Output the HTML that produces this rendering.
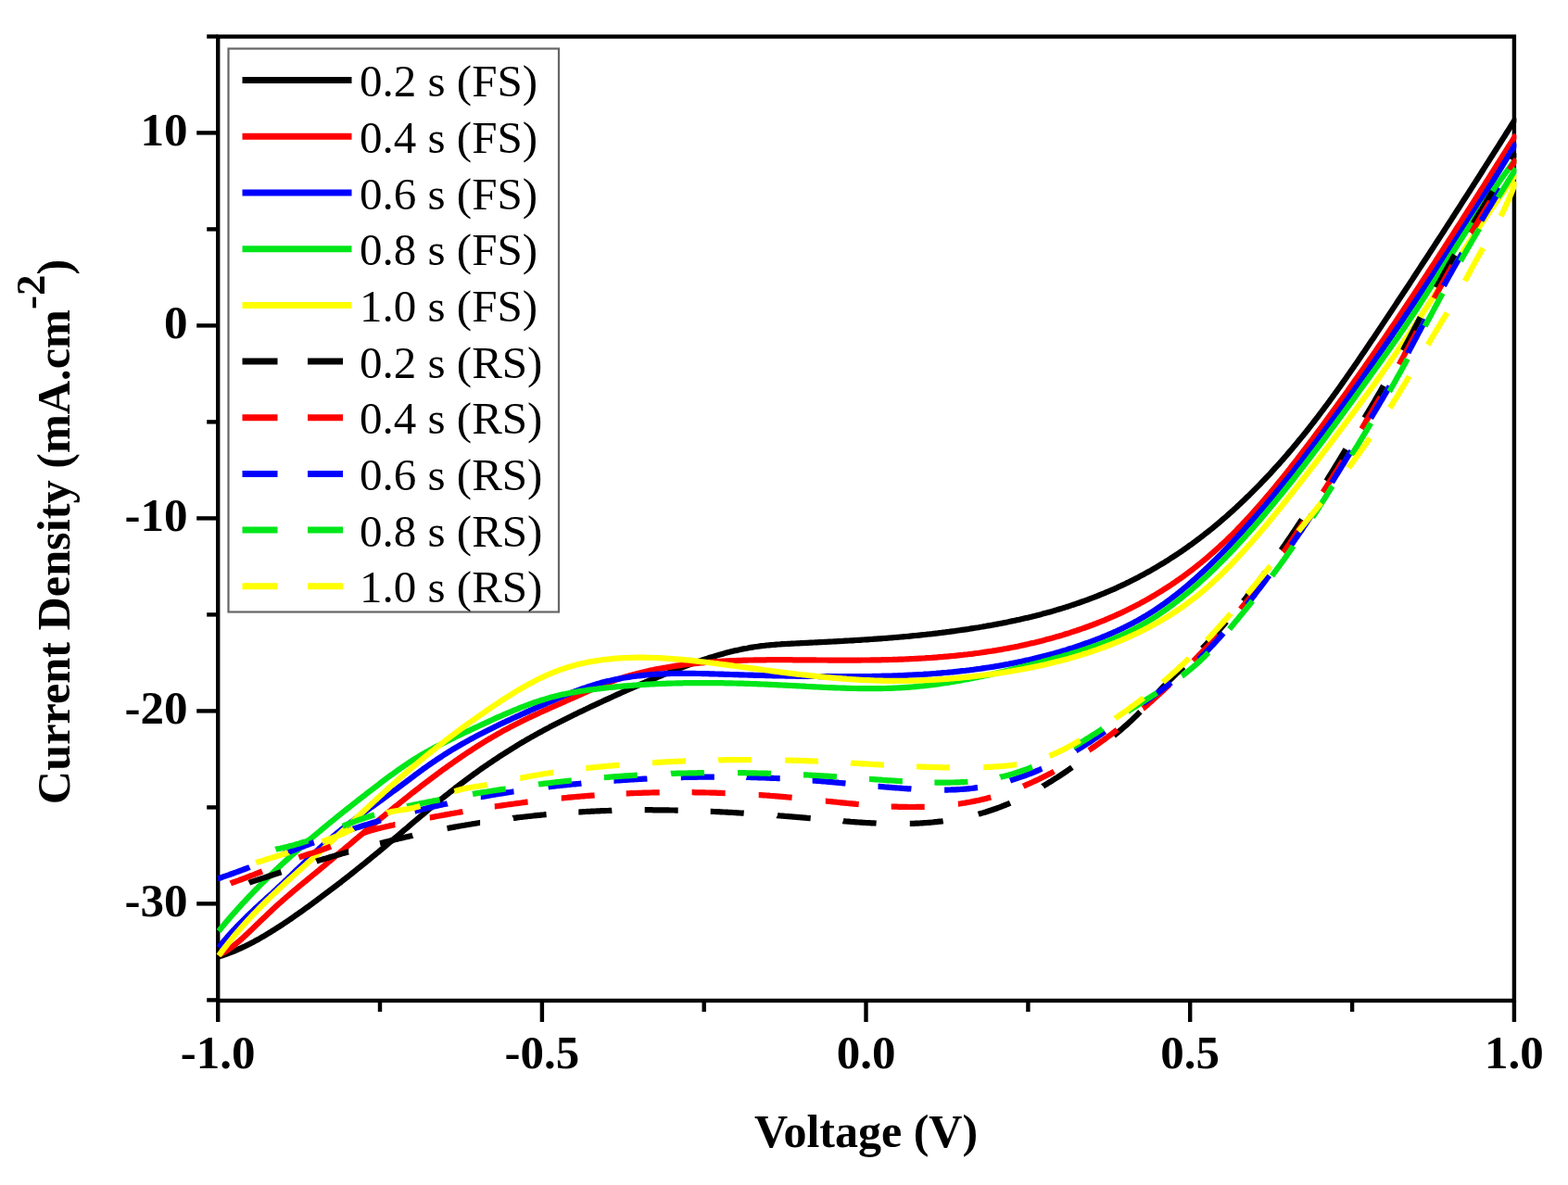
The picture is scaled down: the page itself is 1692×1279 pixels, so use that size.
<!DOCTYPE html>
<html><head><meta charset="utf-8"><title>Current Density vs Voltage</title>
<style>
html,body{margin:0;padding:0;background:#fff;overflow:hidden;}
svg{display:block;}
.tk{font-family:"Liberation Serif","Times New Roman",serif;font-weight:bold;font-size:51px;fill:#000;}
.lg{font-family:"Liberation Serif","Times New Roman",serif;font-size:49px;fill:#000;}
.ax{font-family:"Liberation Serif","Times New Roman",serif;font-weight:bold;font-size:50px;fill:#000;}
</style></head>
<body>
<svg width="1692" height="1279" viewBox="0 0 1692 1279">
<rect width="1692" height="1279" fill="#fff"/>
<defs><clipPath id="pc"><rect x="232.7" y="39.5" width="1403.7" height="1040.5"/></clipPath></defs>
<rect x="235.2" y="39.5" width="1398.7" height="1040.5" fill="none" stroke="#000" stroke-width="4.4"/>
<line x1="212.2" y1="143.4" x2="235.2" y2="143.4" stroke="#000" stroke-width="4.4"/>
<line x1="212.2" y1="351.4" x2="235.2" y2="351.4" stroke="#000" stroke-width="4.4"/>
<line x1="212.2" y1="559.4" x2="235.2" y2="559.4" stroke="#000" stroke-width="4.4"/>
<line x1="212.2" y1="767.4" x2="235.2" y2="767.4" stroke="#000" stroke-width="4.4"/>
<line x1="212.2" y1="975.4" x2="235.2" y2="975.4" stroke="#000" stroke-width="4.4"/>
<line x1="223.2" y1="39.4" x2="235.2" y2="39.4" stroke="#000" stroke-width="4.4"/>
<line x1="223.2" y1="247.4" x2="235.2" y2="247.4" stroke="#000" stroke-width="4.4"/>
<line x1="223.2" y1="455.4" x2="235.2" y2="455.4" stroke="#000" stroke-width="4.4"/>
<line x1="223.2" y1="663.4" x2="235.2" y2="663.4" stroke="#000" stroke-width="4.4"/>
<line x1="223.2" y1="871.4" x2="235.2" y2="871.4" stroke="#000" stroke-width="4.4"/>
<line x1="223.2" y1="1079.4" x2="235.2" y2="1079.4" stroke="#000" stroke-width="4.4"/>
<line x1="235.2" y1="1080.0" x2="235.2" y2="1103.0" stroke="#000" stroke-width="4.4"/>
<line x1="584.9" y1="1080.0" x2="584.9" y2="1103.0" stroke="#000" stroke-width="4.4"/>
<line x1="934.5" y1="1080.0" x2="934.5" y2="1103.0" stroke="#000" stroke-width="4.4"/>
<line x1="1284.2" y1="1080.0" x2="1284.2" y2="1103.0" stroke="#000" stroke-width="4.4"/>
<line x1="1633.9" y1="1080.0" x2="1633.9" y2="1103.0" stroke="#000" stroke-width="4.4"/>
<line x1="410.0" y1="1080.0" x2="410.0" y2="1092.0" stroke="#000" stroke-width="4.4"/>
<line x1="759.7" y1="1080.0" x2="759.7" y2="1092.0" stroke="#000" stroke-width="4.4"/>
<line x1="1109.4" y1="1080.0" x2="1109.4" y2="1092.0" stroke="#000" stroke-width="4.4"/>
<line x1="1459.1" y1="1080.0" x2="1459.1" y2="1092.0" stroke="#000" stroke-width="4.4"/>
<g clip-path="url(#pc)">
<path d="M236.0,1032.5L238.0,1031.9L240.0,1031.2L242.0,1030.6L244.0,1029.9L246.0,1029.1L248.0,1028.4L250.0,1027.6L252.0,1026.8L254.0,1026.0L256.0,1025.1L258.0,1024.2L260.0,1023.3L262.0,1022.4L264.0,1021.5L266.0,1020.5L268.0,1019.5L270.0,1018.5L272.0,1017.4L274.0,1016.4L276.0,1015.3L278.0,1014.2L280.0,1013.1L282.0,1011.9L284.0,1010.8L286.0,1009.6L288.0,1008.4L290.0,1007.2L292.0,1006.0L294.0,1004.7L296.0,1003.5L298.0,1002.2L300.0,1000.9L302.0,999.6L304.0,998.3L306.0,997.0L308.0,995.7L310.0,994.3L312.0,993.0L314.0,991.6L316.0,990.2L318.0,988.8L320.0,987.4L322.0,986.0L324.0,984.6L326.0,983.2L328.0,981.7L330.0,980.3L332.0,978.9L334.0,977.4L336.0,976.0L338.0,974.5L340.0,973.0L342.0,971.6L344.0,970.1L346.0,968.6L348.0,967.1L350.0,965.6L352.0,964.1L354.0,962.6L356.0,961.1L358.0,959.6L360.0,958.1L362.0,956.5L364.0,955.0L366.0,953.4L368.0,951.9L370.0,950.3L372.0,948.8L374.0,947.2L376.0,945.7L378.0,944.1L380.0,942.5L382.0,940.9L384.0,939.3L386.0,937.7L388.0,936.1L390.0,934.5L392.0,932.9L394.0,931.3L396.0,929.6L398.0,928.0L400.0,926.4L402.0,924.7L404.0,923.1L406.0,921.4L408.0,919.8L410.0,918.1L412.0,916.5L414.0,914.8L416.0,913.1L418.0,911.4L420.0,909.7L422.0,908.1L424.0,906.4L426.0,904.7L428.0,903.0L430.0,901.3L432.0,899.6L434.0,897.9L436.0,896.2L438.0,894.5L440.0,892.8L442.0,891.1L444.0,889.4L446.0,887.7L448.0,886.0L450.0,884.3L452.0,882.6L454.0,880.9L456.0,879.3L458.0,877.6L460.0,875.9L462.0,874.2L464.0,872.6L466.0,870.9L468.0,869.3L470.0,867.6L472.0,866.0L474.0,864.3L476.0,862.7L478.0,861.1L480.0,859.5L482.0,857.9L484.0,856.3L486.0,854.7L488.0,853.2L490.0,851.6L492.0,850.0L494.0,848.5L496.0,847.0L498.0,845.4L500.0,843.9L502.0,842.4L504.0,841.0L506.0,839.5L508.0,838.0L510.0,836.6L512.0,835.1L514.0,833.7L516.0,832.2L518.0,830.8L520.0,829.4L522.0,828.0L524.0,826.6L526.0,825.3L528.0,823.9L530.0,822.6L532.0,821.2L534.0,819.9L536.0,818.6L538.0,817.2L540.0,815.9L542.0,814.6L544.0,813.4L546.0,812.1L548.0,810.8L550.0,809.6L552.0,808.3L554.0,807.1L556.0,805.9L558.0,804.6L560.0,803.4L562.0,802.2L564.0,801.0L566.0,799.9L568.0,798.7L570.0,797.5L572.0,796.4L574.0,795.2L576.0,794.1L578.0,793.0L580.0,791.9L582.0,790.8L584.0,789.7L586.0,788.6L588.0,787.5L590.0,786.4L592.0,785.4L594.0,784.3L596.0,783.3L598.0,782.2L600.0,781.2L602.0,780.2L604.0,779.2L606.0,778.2L608.0,777.2L610.0,776.2L612.0,775.2L614.0,774.2L616.0,773.2L618.0,772.2L620.0,771.2L622.0,770.3L624.0,769.3L626.0,768.3L628.0,767.4L630.0,766.4L632.0,765.5L634.0,764.5L636.0,763.6L638.0,762.6L640.0,761.7L642.0,760.8L644.0,759.8L646.0,758.9L648.0,758.0L650.0,757.1L652.0,756.1L654.0,755.2L656.0,754.3L658.0,753.4L660.0,752.5L662.0,751.5L664.0,750.6L666.0,749.7L668.0,748.8L670.0,747.9L672.0,747.0L674.0,746.1L676.0,745.2L678.0,744.4L680.0,743.5L682.0,742.6L684.0,741.7L686.0,740.8L688.0,740.0L690.0,739.1L692.0,738.2L694.0,737.4L696.0,736.5L698.0,735.7L700.0,734.8L702.0,734.0L704.0,733.1L706.0,732.3L708.0,731.5L710.0,730.7L712.0,729.8L714.0,729.0L716.0,728.2L718.0,727.4L720.0,726.6L722.0,725.8L724.0,725.0L726.0,724.2L728.0,723.4L730.0,722.6L732.0,721.9L734.0,721.1L736.0,720.3L738.0,719.6L740.0,718.8L742.0,718.1L744.0,717.3L746.0,716.6L748.0,715.9L750.0,715.2L752.0,714.5L754.0,713.8L756.0,713.1L758.0,712.4L760.0,711.8L762.0,711.1L764.0,710.5L766.0,709.8L768.0,709.2L770.0,708.6L772.0,708.0L774.0,707.4L776.0,706.8L778.0,706.3L780.0,705.7L782.0,705.1L784.0,704.6L786.0,704.1L788.0,703.6L790.0,703.1L792.0,702.6L794.0,702.1L796.0,701.7L798.0,701.3L800.0,700.8L802.0,700.4L804.0,700.0L806.0,699.7L808.0,699.3L810.0,698.9L812.0,698.6L814.0,698.3L816.0,698.0L818.0,697.7L820.0,697.4L822.0,697.2L824.0,697.0L826.0,696.7L828.0,696.5L830.0,696.3L832.0,696.1L834.0,696.0L836.0,695.8L838.0,695.6L840.0,695.5L842.0,695.4L844.0,695.2L846.0,695.1L848.0,695.0L850.0,694.9L852.0,694.8L854.0,694.7L856.0,694.6L858.0,694.5L860.0,694.4L862.0,694.3L864.0,694.2L866.0,694.1L868.0,694.0L870.0,693.9L872.0,693.8L874.0,693.7L876.0,693.6L878.0,693.5L880.0,693.4L882.0,693.3L884.0,693.2L886.0,693.1L888.0,693.0L890.0,692.9L892.0,692.8L894.0,692.7L896.0,692.6L898.0,692.5L900.0,692.4L902.0,692.3L904.0,692.2L906.0,692.1L908.0,692.0L910.0,691.8L912.0,691.7L914.0,691.6L916.0,691.5L918.0,691.4L920.0,691.3L922.0,691.1L924.0,691.0L926.0,690.9L928.0,690.8L930.0,690.6L932.0,690.5L934.0,690.4L936.0,690.3L938.0,690.1L940.0,690.0L942.0,689.8L944.0,689.7L946.0,689.6L948.0,689.4L950.0,689.3L952.0,689.1L954.0,689.0L956.0,688.8L958.0,688.7L960.0,688.5L962.0,688.3L964.0,688.2L966.0,688.0L968.0,687.8L970.0,687.7L972.0,687.5L974.0,687.3L976.0,687.1L978.0,687.0L980.0,686.8L982.0,686.6L984.0,686.4L986.0,686.2L988.0,686.0L990.0,685.8L992.0,685.6L994.0,685.4L996.0,685.2L998.0,685.0L1000.0,684.7L1002.0,684.5L1004.0,684.3L1006.0,684.1L1008.0,683.8L1010.0,683.6L1012.0,683.4L1014.0,683.1L1016.0,682.9L1018.0,682.6L1020.0,682.4L1022.0,682.1L1024.0,681.9L1026.0,681.6L1028.0,681.3L1030.0,681.1L1032.0,680.8L1034.0,680.5L1036.0,680.2L1038.0,679.9L1040.0,679.7L1042.0,679.4L1044.0,679.1L1046.0,678.7L1048.0,678.4L1050.0,678.1L1052.0,677.8L1054.0,677.5L1056.0,677.2L1058.0,676.8L1060.0,676.5L1062.0,676.1L1064.0,675.8L1066.0,675.4L1068.0,675.1L1070.0,674.7L1072.0,674.4L1074.0,674.0L1076.0,673.6L1078.0,673.2L1080.0,672.9L1082.0,672.5L1084.0,672.1L1086.0,671.7L1088.0,671.3L1090.0,670.8L1092.0,670.4L1094.0,670.0L1096.0,669.6L1098.0,669.1L1100.0,668.7L1102.0,668.2L1104.0,667.8L1106.0,667.3L1108.0,666.9L1110.0,666.4L1112.0,665.9L1114.0,665.4L1116.0,664.9L1118.0,664.4L1120.0,663.9L1122.0,663.4L1124.0,662.9L1126.0,662.3L1128.0,661.8L1130.0,661.3L1132.0,660.7L1134.0,660.2L1136.0,659.6L1138.0,659.0L1140.0,658.4L1142.0,657.8L1144.0,657.2L1146.0,656.6L1148.0,656.0L1150.0,655.4L1152.0,654.7L1154.0,654.1L1156.0,653.4L1158.0,652.8L1160.0,652.1L1162.0,651.4L1164.0,650.7L1166.0,650.0L1168.0,649.3L1170.0,648.6L1172.0,647.9L1174.0,647.2L1176.0,646.4L1178.0,645.6L1180.0,644.9L1182.0,644.1L1184.0,643.3L1186.0,642.5L1188.0,641.7L1190.0,640.9L1192.0,640.1L1194.0,639.2L1196.0,638.4L1198.0,637.5L1200.0,636.6L1202.0,635.8L1204.0,634.9L1206.0,633.9L1208.0,633.0L1210.0,632.1L1212.0,631.2L1214.0,630.2L1216.0,629.2L1218.0,628.3L1220.0,627.3L1222.0,626.3L1224.0,625.3L1226.0,624.2L1228.0,623.2L1230.0,622.1L1232.0,621.1L1234.0,620.0L1236.0,618.9L1238.0,617.8L1240.0,616.7L1242.0,615.6L1244.0,614.4L1246.0,613.3L1248.0,612.1L1250.0,610.9L1252.0,609.7L1254.0,608.5L1256.0,607.3L1258.0,606.0L1260.0,604.8L1262.0,603.5L1264.0,602.2L1266.0,601.0L1268.0,599.6L1270.0,598.3L1272.0,597.0L1274.0,595.6L1276.0,594.3L1278.0,592.9L1280.0,591.5L1282.0,590.1L1284.0,588.6L1286.0,587.2L1288.0,585.7L1290.0,584.3L1292.0,582.8L1294.0,581.3L1296.0,579.7L1298.0,578.2L1300.0,576.6L1302.0,575.1L1304.0,573.5L1306.0,571.9L1308.0,570.3L1310.0,568.6L1312.0,567.0L1314.0,565.3L1316.0,563.6L1318.0,561.9L1320.0,560.2L1322.0,558.5L1324.0,556.7L1326.0,554.9L1328.0,553.2L1330.0,551.4L1332.0,549.5L1334.0,547.7L1336.0,545.8L1338.0,544.0L1340.0,542.1L1342.0,540.2L1344.0,538.3L1346.0,536.3L1348.0,534.4L1350.0,532.4L1352.0,530.4L1354.0,528.4L1356.0,526.4L1358.0,524.4L1360.0,522.3L1362.0,520.2L1364.0,518.1L1366.0,516.0L1368.0,513.9L1370.0,511.8L1372.0,509.6L1374.0,507.4L1376.0,505.2L1378.0,503.0L1380.0,500.8L1382.0,498.5L1384.0,496.3L1386.0,494.0L1388.0,491.7L1390.0,489.4L1392.0,487.0L1394.0,484.7L1396.0,482.3L1398.0,479.9L1400.0,477.5L1402.0,475.1L1404.0,472.6L1406.0,470.2L1408.0,467.7L1410.0,465.2L1412.0,462.7L1414.0,460.1L1416.0,457.6L1418.0,455.0L1420.0,452.4L1422.0,449.8L1424.0,447.2L1426.0,444.5L1428.0,441.9L1430.0,439.2L1432.0,436.5L1434.0,433.8L1436.0,431.0L1438.0,428.3L1440.0,425.5L1442.0,422.8L1444.0,420.0L1446.0,417.2L1448.0,414.4L1450.0,411.5L1452.0,408.7L1454.0,405.8L1456.0,403.0L1458.0,400.1L1460.0,397.2L1462.0,394.3L1464.0,391.4L1466.0,388.5L1468.0,385.5L1470.0,382.6L1472.0,379.7L1474.0,376.7L1476.0,373.8L1478.0,370.8L1480.0,367.8L1482.0,364.9L1484.0,361.9L1486.0,358.9L1488.0,355.9L1490.0,352.9L1492.0,349.9L1494.0,346.9L1496.0,343.9L1498.0,340.9L1500.0,337.9L1502.0,334.9L1504.0,331.9L1506.0,328.9L1508.0,325.8L1510.0,322.8L1512.0,319.8L1514.0,316.8L1516.0,313.7L1518.0,310.7L1520.0,307.7L1522.0,304.6L1524.0,301.6L1526.0,298.5L1528.0,295.5L1530.0,292.4L1532.0,289.4L1534.0,286.3L1536.0,283.3L1538.0,280.2L1540.0,277.2L1542.0,274.1L1544.0,271.0L1546.0,268.0L1548.0,264.9L1550.0,261.8L1552.0,258.7L1554.0,255.6L1556.0,252.6L1558.0,249.5L1560.0,246.4L1562.0,243.3L1564.0,240.2L1566.0,237.1L1568.0,234.0L1570.0,230.9L1572.0,227.8L1574.0,224.7L1576.0,221.6L1578.0,218.4L1580.0,215.3L1582.0,212.2L1584.0,209.1L1586.0,206.0L1588.0,202.8L1590.0,199.7L1592.0,196.6L1594.0,193.5L1596.0,190.3L1598.0,187.2L1600.0,184.0L1602.0,180.9L1604.0,177.7L1606.0,174.6L1608.0,171.4L1610.0,168.3L1612.0,165.1L1614.0,162.0L1616.0,158.8L1618.0,155.7L1620.0,152.5L1622.0,149.3L1624.0,146.2L1626.0,143.0L1628.0,139.8L1630.0,136.6L1632.0,133.5L1634.0,130.3L1636.0,127.1" stroke="#000000" stroke-width="6.2" fill="none" stroke-linejoin="round"/>
<path d="M236.0,1030.6L238.0,1029.7L240.0,1028.7L242.0,1027.6L244.0,1026.4L246.0,1025.1L248.0,1023.7L250.0,1022.3L252.0,1020.8L254.0,1019.2L256.0,1017.5L258.0,1015.8L260.0,1014.1L262.0,1012.3L264.0,1010.4L266.0,1008.6L268.0,1006.7L270.0,1004.8L272.0,1002.9L274.0,1000.9L276.0,999.0L278.0,997.1L280.0,995.1L282.0,993.2L284.0,991.3L286.0,989.4L288.0,987.5L290.0,985.6L292.0,983.7L294.0,981.8L296.0,980.0L298.0,978.1L300.0,976.3L302.0,974.5L304.0,972.8L306.0,971.0L308.0,969.3L310.0,967.5L312.0,965.8L314.0,964.1L316.0,962.4L318.0,960.7L320.0,959.1L322.0,957.4L324.0,955.7L326.0,954.1L328.0,952.4L330.0,950.8L332.0,949.1L334.0,947.5L336.0,945.8L338.0,944.2L340.0,942.6L342.0,940.9L344.0,939.3L346.0,937.6L348.0,935.9L350.0,934.3L352.0,932.6L354.0,930.9L356.0,929.3L358.0,927.6L360.0,925.9L362.0,924.2L364.0,922.5L366.0,920.9L368.0,919.2L370.0,917.5L372.0,915.8L374.0,914.1L376.0,912.5L378.0,910.8L380.0,909.1L382.0,907.4L384.0,905.7L386.0,904.1L388.0,902.4L390.0,900.7L392.0,899.1L394.0,897.4L396.0,895.7L398.0,894.0L400.0,892.4L402.0,890.7L404.0,889.1L406.0,887.4L408.0,885.7L410.0,884.1L412.0,882.4L414.0,880.8L416.0,879.2L418.0,877.5L420.0,875.9L422.0,874.3L424.0,872.6L426.0,871.0L428.0,869.4L430.0,867.8L432.0,866.2L434.0,864.6L436.0,863.0L438.0,861.4L440.0,859.8L442.0,858.2L444.0,856.6L446.0,855.1L448.0,853.5L450.0,851.9L452.0,850.4L454.0,848.8L456.0,847.3L458.0,845.8L460.0,844.2L462.0,842.7L464.0,841.2L466.0,839.7L468.0,838.2L470.0,836.7L472.0,835.2L474.0,833.8L476.0,832.3L478.0,830.8L480.0,829.4L482.0,827.9L484.0,826.5L486.0,825.1L488.0,823.7L490.0,822.3L492.0,820.9L494.0,819.5L496.0,818.1L498.0,816.7L500.0,815.4L502.0,814.0L504.0,812.7L506.0,811.4L508.0,810.1L510.0,808.7L512.0,807.5L514.0,806.2L516.0,804.9L518.0,803.6L520.0,802.4L522.0,801.1L524.0,799.9L526.0,798.7L528.0,797.5L530.0,796.3L532.0,795.1L534.0,794.0L536.0,792.8L538.0,791.7L540.0,790.6L542.0,789.4L544.0,788.3L546.0,787.3L548.0,786.2L550.0,785.1L552.0,784.1L554.0,783.0L556.0,782.0L558.0,781.0L560.0,780.0L562.0,779.0L564.0,778.0L566.0,777.0L568.0,776.0L570.0,775.1L572.0,774.1L574.0,773.2L576.0,772.2L578.0,771.3L580.0,770.4L582.0,769.4L584.0,768.5L586.0,767.6L588.0,766.7L590.0,765.8L592.0,764.9L594.0,764.0L596.0,763.1L598.0,762.2L600.0,761.3L602.0,760.4L604.0,759.6L606.0,758.7L608.0,757.8L610.0,756.9L612.0,756.0L614.0,755.1L616.0,754.2L618.0,753.3L620.0,752.5L622.0,751.6L624.0,750.7L626.0,749.8L628.0,748.9L630.0,748.0L632.0,747.1L634.0,746.2L636.0,745.4L638.0,744.5L640.0,743.6L642.0,742.8L644.0,741.9L646.0,741.1L648.0,740.3L650.0,739.4L652.0,738.6L654.0,737.8L656.0,737.1L658.0,736.3L660.0,735.6L662.0,734.8L664.0,734.1L666.0,733.4L668.0,732.7L670.0,732.1L672.0,731.4L674.0,730.8L676.0,730.2L678.0,729.6L680.0,729.0L682.0,728.5L684.0,727.9L686.0,727.4L688.0,726.9L690.0,726.4L692.0,725.9L694.0,725.4L696.0,725.0L698.0,724.5L700.0,724.1L702.0,723.6L704.0,723.2L706.0,722.8L708.0,722.4L710.0,722.0L712.0,721.6L714.0,721.3L716.0,720.9L718.0,720.6L720.0,720.2L722.0,719.9L724.0,719.6L726.0,719.2L728.0,718.9L730.0,718.6L732.0,718.3L734.0,718.1L736.0,717.8L738.0,717.5L740.0,717.3L742.0,717.0L744.0,716.8L746.0,716.5L748.0,716.3L750.0,716.1L752.0,715.9L754.0,715.7L756.0,715.5L758.0,715.3L760.0,715.1L762.0,715.0L764.0,714.8L766.0,714.6L768.0,714.5L770.0,714.3L772.0,714.2L774.0,714.0L776.0,713.9L778.0,713.8L780.0,713.7L782.0,713.6L784.0,713.4L786.0,713.3L788.0,713.2L790.0,713.2L792.0,713.1L794.0,713.0L796.0,712.9L798.0,712.8L800.0,712.8L802.0,712.7L804.0,712.6L806.0,712.6L808.0,712.5L810.0,712.5L812.0,712.5L814.0,712.4L816.0,712.4L818.0,712.3L820.0,712.3L822.0,712.3L824.0,712.3L826.0,712.3L828.0,712.2L830.0,712.2L832.0,712.2L834.0,712.2L836.0,712.2L838.0,712.2L840.0,712.2L842.0,712.2L844.0,712.2L846.0,712.2L848.0,712.2L850.0,712.2L852.0,712.2L854.0,712.2L856.0,712.3L858.0,712.3L860.0,712.3L862.0,712.3L864.0,712.3L866.0,712.3L868.0,712.3L870.0,712.4L872.0,712.4L874.0,712.4L876.0,712.4L878.0,712.4L880.0,712.4L882.0,712.5L884.0,712.5L886.0,712.5L888.0,712.5L890.0,712.5L892.0,712.5L894.0,712.6L896.0,712.6L898.0,712.6L900.0,712.6L902.0,712.6L904.0,712.6L906.0,712.6L908.0,712.6L910.0,712.6L912.0,712.6L914.0,712.6L916.0,712.6L918.0,712.6L920.0,712.6L922.0,712.6L924.0,712.6L926.0,712.6L928.0,712.6L930.0,712.5L932.0,712.5L934.0,712.5L936.0,712.5L938.0,712.5L940.0,712.4L942.0,712.4L944.0,712.4L946.0,712.3L948.0,712.3L950.0,712.3L952.0,712.2L954.0,712.2L956.0,712.1L958.0,712.1L960.0,712.0L962.0,712.0L964.0,711.9L966.0,711.9L968.0,711.8L970.0,711.7L972.0,711.6L974.0,711.6L976.0,711.5L978.0,711.4L980.0,711.3L982.0,711.2L984.0,711.1L986.0,711.0L988.0,710.9L990.0,710.8L992.0,710.7L994.0,710.6L996.0,710.5L998.0,710.4L1000.0,710.2L1002.0,710.1L1004.0,710.0L1006.0,709.8L1008.0,709.7L1010.0,709.6L1012.0,709.4L1014.0,709.2L1016.0,709.1L1018.0,708.9L1020.0,708.7L1022.0,708.6L1024.0,708.4L1026.0,708.2L1028.0,708.0L1030.0,707.8L1032.0,707.6L1034.0,707.4L1036.0,707.2L1038.0,707.0L1040.0,706.7L1042.0,706.5L1044.0,706.3L1046.0,706.0L1048.0,705.8L1050.0,705.6L1052.0,705.3L1054.0,705.0L1056.0,704.8L1058.0,704.5L1060.0,704.2L1062.0,703.9L1064.0,703.6L1066.0,703.3L1068.0,703.0L1070.0,702.7L1072.0,702.4L1074.0,702.1L1076.0,701.7L1078.0,701.4L1080.0,701.1L1082.0,700.7L1084.0,700.3L1086.0,700.0L1088.0,699.6L1090.0,699.2L1092.0,698.8L1094.0,698.5L1096.0,698.1L1098.0,697.7L1100.0,697.2L1102.0,696.8L1104.0,696.4L1106.0,695.9L1108.0,695.5L1110.0,695.1L1112.0,694.6L1114.0,694.1L1116.0,693.7L1118.0,693.2L1120.0,692.7L1122.0,692.2L1124.0,691.7L1126.0,691.2L1128.0,690.6L1130.0,690.1L1132.0,689.6L1134.0,689.0L1136.0,688.5L1138.0,687.9L1140.0,687.3L1142.0,686.8L1144.0,686.2L1146.0,685.6L1148.0,685.0L1150.0,684.3L1152.0,683.7L1154.0,683.1L1156.0,682.4L1158.0,681.8L1160.0,681.1L1162.0,680.5L1164.0,679.8L1166.0,679.1L1168.0,678.4L1170.0,677.7L1172.0,677.0L1174.0,676.3L1176.0,675.5L1178.0,674.8L1180.0,674.0L1182.0,673.3L1184.0,672.5L1186.0,671.7L1188.0,670.9L1190.0,670.1L1192.0,669.3L1194.0,668.4L1196.0,667.6L1198.0,666.7L1200.0,665.9L1202.0,665.0L1204.0,664.1L1206.0,663.2L1208.0,662.3L1210.0,661.4L1212.0,660.4L1214.0,659.5L1216.0,658.5L1218.0,657.5L1220.0,656.5L1222.0,655.5L1224.0,654.5L1226.0,653.5L1228.0,652.4L1230.0,651.4L1232.0,650.3L1234.0,649.2L1236.0,648.1L1238.0,647.0L1240.0,645.8L1242.0,644.7L1244.0,643.5L1246.0,642.3L1248.0,641.1L1250.0,639.9L1252.0,638.7L1254.0,637.5L1256.0,636.2L1258.0,634.9L1260.0,633.6L1262.0,632.3L1264.0,631.0L1266.0,629.6L1268.0,628.3L1270.0,626.9L1272.0,625.5L1274.0,624.1L1276.0,622.7L1278.0,621.2L1280.0,619.7L1282.0,618.2L1284.0,616.7L1286.0,615.2L1288.0,613.7L1290.0,612.1L1292.0,610.5L1294.0,608.9L1296.0,607.3L1298.0,605.7L1300.0,604.0L1302.0,602.3L1304.0,600.6L1306.0,598.9L1308.0,597.2L1310.0,595.4L1312.0,593.6L1314.0,591.8L1316.0,590.0L1318.0,588.1L1320.0,586.3L1322.0,584.4L1324.0,582.5L1326.0,580.5L1328.0,578.6L1330.0,576.6L1332.0,574.6L1334.0,572.6L1336.0,570.5L1338.0,568.4L1340.0,566.3L1342.0,564.2L1344.0,562.1L1346.0,560.0L1348.0,557.8L1350.0,555.6L1352.0,553.4L1354.0,551.2L1356.0,548.9L1358.0,546.6L1360.0,544.4L1362.0,542.1L1364.0,539.7L1366.0,537.4L1368.0,535.0L1370.0,532.7L1372.0,530.3L1374.0,527.9L1376.0,525.5L1378.0,523.0L1380.0,520.6L1382.0,518.1L1384.0,515.6L1386.0,513.1L1388.0,510.6L1390.0,508.1L1392.0,505.6L1394.0,503.0L1396.0,500.5L1398.0,497.9L1400.0,495.3L1402.0,492.7L1404.0,490.1L1406.0,487.5L1408.0,484.9L1410.0,482.2L1412.0,479.6L1414.0,476.9L1416.0,474.3L1418.0,471.6L1420.0,468.9L1422.0,466.2L1424.0,463.5L1426.0,460.8L1428.0,458.1L1430.0,455.4L1432.0,452.6L1434.0,449.9L1436.0,447.1L1438.0,444.4L1440.0,441.6L1442.0,438.9L1444.0,436.1L1446.0,433.3L1448.0,430.5L1450.0,427.8L1452.0,425.0L1454.0,422.2L1456.0,419.4L1458.0,416.5L1460.0,413.7L1462.0,410.9L1464.0,408.1L1466.0,405.2L1468.0,402.4L1470.0,399.5L1472.0,396.7L1474.0,393.8L1476.0,391.0L1478.0,388.1L1480.0,385.2L1482.0,382.3L1484.0,379.4L1486.0,376.5L1488.0,373.6L1490.0,370.7L1492.0,367.8L1494.0,364.9L1496.0,361.9L1498.0,359.0L1500.0,356.0L1502.0,353.1L1504.0,350.1L1506.0,347.2L1508.0,344.2L1510.0,341.2L1512.0,338.2L1514.0,335.2L1516.0,332.2L1518.0,329.2L1520.0,326.2L1522.0,323.2L1524.0,320.2L1526.0,317.2L1528.0,314.1L1530.0,311.1L1532.0,308.1L1534.0,305.0L1536.0,302.0L1538.0,298.9L1540.0,295.9L1542.0,292.8L1544.0,289.7L1546.0,286.6L1548.0,283.6L1550.0,280.5L1552.0,277.4L1554.0,274.3L1556.0,271.2L1558.0,268.1L1560.0,265.0L1562.0,261.9L1564.0,258.8L1566.0,255.7L1568.0,252.6L1570.0,249.4L1572.0,246.3L1574.0,243.2L1576.0,240.1L1578.0,236.9L1580.0,233.8L1582.0,230.7L1584.0,227.5L1586.0,224.4L1588.0,221.2L1590.0,218.1L1592.0,214.9L1594.0,211.8L1596.0,208.6L1598.0,205.5L1600.0,202.3L1602.0,199.2L1604.0,196.0L1606.0,192.8L1608.0,189.7L1610.0,186.5L1612.0,183.3L1614.0,180.2L1616.0,177.0L1618.0,173.8L1620.0,170.7L1622.0,167.5L1624.0,164.3L1626.0,161.2L1628.0,158.0L1630.0,154.8L1632.0,151.7L1634.0,148.5L1636.0,145.3" stroke="#ff0000" stroke-width="6.2" fill="none" stroke-linejoin="round"/>
<path d="M236.0,1022.7L238.0,1020.2L240.0,1017.7L242.0,1015.3L244.0,1013.0L246.0,1010.6L248.0,1008.4L250.0,1006.1L252.0,1004.0L254.0,1001.8L256.0,999.7L258.0,997.6L260.0,995.6L262.0,993.6L264.0,991.6L266.0,989.6L268.0,987.7L270.0,985.8L272.0,983.9L274.0,982.0L276.0,980.1L278.0,978.3L280.0,976.4L282.0,974.6L284.0,972.8L286.0,971.0L288.0,969.1L290.0,967.3L292.0,965.5L294.0,963.7L296.0,961.8L298.0,960.0L300.0,958.1L302.0,956.2L304.0,954.4L306.0,952.5L308.0,950.6L310.0,948.7L312.0,946.8L314.0,944.9L316.0,942.9L318.0,941.0L320.0,939.1L322.0,937.2L324.0,935.3L326.0,933.4L328.0,931.4L330.0,929.5L332.0,927.6L334.0,925.7L336.0,923.9L338.0,922.0L340.0,920.1L342.0,918.3L344.0,916.4L346.0,914.6L348.0,912.8L350.0,911.0L352.0,909.2L354.0,907.4L356.0,905.7L358.0,904.0L360.0,902.3L362.0,900.6L364.0,898.9L366.0,897.3L368.0,895.7L370.0,894.1L372.0,892.5L374.0,891.0L376.0,889.4L378.0,887.9L380.0,886.4L382.0,884.9L384.0,883.4L386.0,881.9L388.0,880.5L390.0,879.0L392.0,877.6L394.0,876.1L396.0,874.7L398.0,873.2L400.0,871.8L402.0,870.4L404.0,868.9L406.0,867.5L408.0,866.1L410.0,864.6L412.0,863.2L414.0,861.7L416.0,860.3L418.0,858.8L420.0,857.3L422.0,855.8L424.0,854.3L426.0,852.9L428.0,851.4L430.0,849.9L432.0,848.4L434.0,846.9L436.0,845.4L438.0,843.9L440.0,842.4L442.0,840.9L444.0,839.4L446.0,837.9L448.0,836.4L450.0,835.0L452.0,833.5L454.0,832.0L456.0,830.6L458.0,829.1L460.0,827.7L462.0,826.3L464.0,824.9L466.0,823.5L468.0,822.1L470.0,820.8L472.0,819.4L474.0,818.1L476.0,816.8L478.0,815.5L480.0,814.2L482.0,813.0L484.0,811.7L486.0,810.5L488.0,809.2L490.0,808.0L492.0,806.8L494.0,805.7L496.0,804.5L498.0,803.3L500.0,802.2L502.0,801.1L504.0,800.0L506.0,798.9L508.0,797.8L510.0,796.7L512.0,795.6L514.0,794.5L516.0,793.5L518.0,792.4L520.0,791.4L522.0,790.4L524.0,789.4L526.0,788.4L528.0,787.4L530.0,786.4L532.0,785.4L534.0,784.4L536.0,783.5L538.0,782.5L540.0,781.5L542.0,780.6L544.0,779.7L546.0,778.7L548.0,777.8L550.0,776.9L552.0,775.9L554.0,775.0L556.0,774.1L558.0,773.2L560.0,772.3L562.0,771.4L564.0,770.5L566.0,769.6L568.0,768.7L570.0,767.8L572.0,766.9L574.0,766.0L576.0,765.1L578.0,764.2L580.0,763.4L582.0,762.5L584.0,761.6L586.0,760.7L588.0,759.8L590.0,758.9L592.0,758.0L594.0,757.2L596.0,756.3L598.0,755.4L600.0,754.6L602.0,753.7L604.0,752.9L606.0,752.0L608.0,751.2L610.0,750.4L612.0,749.6L614.0,748.8L616.0,748.0L618.0,747.2L620.0,746.4L622.0,745.6L624.0,744.9L626.0,744.2L628.0,743.4L630.0,742.7L632.0,742.1L634.0,741.4L636.0,740.7L638.0,740.1L640.0,739.5L642.0,738.9L644.0,738.3L646.0,737.7L648.0,737.1L650.0,736.6L652.0,736.1L654.0,735.6L656.0,735.1L658.0,734.7L660.0,734.2L662.0,733.8L664.0,733.4L666.0,733.0L668.0,732.6L670.0,732.2L672.0,731.8L674.0,731.5L676.0,731.2L678.0,730.9L680.0,730.6L682.0,730.3L684.0,730.0L686.0,729.8L688.0,729.5L690.0,729.3L692.0,729.1L694.0,728.9L696.0,728.7L698.0,728.5L700.0,728.3L702.0,728.2L704.0,728.0L706.0,727.9L708.0,727.7L710.0,727.6L712.0,727.5L714.0,727.4L716.0,727.3L718.0,727.2L720.0,727.2L722.0,727.1L724.0,727.0L726.0,727.0L728.0,727.0L730.0,726.9L732.0,726.9L734.0,726.9L736.0,726.9L738.0,726.9L740.0,726.9L742.0,726.9L744.0,726.9L746.0,726.9L748.0,726.9L750.0,726.9L752.0,727.0L754.0,727.0L756.0,727.0L758.0,727.1L760.0,727.1L762.0,727.2L764.0,727.2L766.0,727.3L768.0,727.3L770.0,727.4L772.0,727.5L774.0,727.5L776.0,727.6L778.0,727.6L780.0,727.7L782.0,727.8L784.0,727.8L786.0,727.9L788.0,728.0L790.0,728.0L792.0,728.1L794.0,728.2L796.0,728.2L798.0,728.3L800.0,728.4L802.0,728.4L804.0,728.5L806.0,728.5L808.0,728.6L810.0,728.6L812.0,728.7L814.0,728.8L816.0,728.8L818.0,728.9L820.0,728.9L822.0,729.0L824.0,729.0L826.0,729.1L828.0,729.1L830.0,729.2L832.0,729.2L834.0,729.3L836.0,729.3L838.0,729.3L840.0,729.4L842.0,729.4L844.0,729.5L846.0,729.5L848.0,729.6L850.0,729.6L852.0,729.6L854.0,729.7L856.0,729.7L858.0,729.7L860.0,729.8L862.0,729.8L864.0,729.8L866.0,729.9L868.0,729.9L870.0,729.9L872.0,729.9L874.0,730.0L876.0,730.0L878.0,730.0L880.0,730.0L882.0,730.0L884.0,730.1L886.0,730.1L888.0,730.1L890.0,730.1L892.0,730.1L894.0,730.1L896.0,730.2L898.0,730.2L900.0,730.2L902.0,730.2L904.0,730.2L906.0,730.2L908.0,730.2L910.0,730.2L912.0,730.2L914.0,730.2L916.0,730.2L918.0,730.2L920.0,730.2L922.0,730.2L924.0,730.2L926.0,730.1L928.0,730.1L930.0,730.1L932.0,730.1L934.0,730.1L936.0,730.0L938.0,730.0L940.0,730.0L942.0,729.9L944.0,729.9L946.0,729.9L948.0,729.8L950.0,729.8L952.0,729.7L954.0,729.7L956.0,729.6L958.0,729.6L960.0,729.5L962.0,729.5L964.0,729.4L966.0,729.3L968.0,729.3L970.0,729.2L972.0,729.1L974.0,729.0L976.0,728.9L978.0,728.8L980.0,728.7L982.0,728.7L984.0,728.6L986.0,728.4L988.0,728.3L990.0,728.2L992.0,728.1L994.0,728.0L996.0,727.9L998.0,727.7L1000.0,727.6L1002.0,727.5L1004.0,727.3L1006.0,727.2L1008.0,727.0L1010.0,726.9L1012.0,726.7L1014.0,726.6L1016.0,726.4L1018.0,726.2L1020.0,726.0L1022.0,725.9L1024.0,725.7L1026.0,725.5L1028.0,725.3L1030.0,725.1L1032.0,724.9L1034.0,724.7L1036.0,724.4L1038.0,724.2L1040.0,724.0L1042.0,723.8L1044.0,723.5L1046.0,723.3L1048.0,723.0L1050.0,722.8L1052.0,722.5L1054.0,722.2L1056.0,722.0L1058.0,721.7L1060.0,721.4L1062.0,721.1L1064.0,720.8L1066.0,720.5L1068.0,720.2L1070.0,719.9L1072.0,719.6L1074.0,719.2L1076.0,718.9L1078.0,718.6L1080.0,718.2L1082.0,717.9L1084.0,717.5L1086.0,717.1L1088.0,716.8L1090.0,716.4L1092.0,716.0L1094.0,715.6L1096.0,715.2L1098.0,714.8L1100.0,714.4L1102.0,714.0L1104.0,713.5L1106.0,713.1L1108.0,712.6L1110.0,712.2L1112.0,711.7L1114.0,711.3L1116.0,710.8L1118.0,710.3L1120.0,709.8L1122.0,709.3L1124.0,708.8L1126.0,708.3L1128.0,707.8L1130.0,707.3L1132.0,706.7L1134.0,706.2L1136.0,705.7L1138.0,705.1L1140.0,704.5L1142.0,704.0L1144.0,703.4L1146.0,702.8L1148.0,702.2L1150.0,701.6L1152.0,701.0L1154.0,700.3L1156.0,699.7L1158.0,699.1L1160.0,698.4L1162.0,697.8L1164.0,697.1L1166.0,696.4L1168.0,695.7L1170.0,695.0L1172.0,694.3L1174.0,693.6L1176.0,692.9L1178.0,692.2L1180.0,691.4L1182.0,690.7L1184.0,689.9L1186.0,689.1L1188.0,688.3L1190.0,687.5L1192.0,686.7L1194.0,685.9L1196.0,685.0L1198.0,684.2L1200.0,683.3L1202.0,682.4L1204.0,681.5L1206.0,680.6L1208.0,679.7L1210.0,678.7L1212.0,677.8L1214.0,676.8L1216.0,675.8L1218.0,674.8L1220.0,673.8L1222.0,672.7L1224.0,671.6L1226.0,670.6L1228.0,669.5L1230.0,668.3L1232.0,667.2L1234.0,666.0L1236.0,664.8L1238.0,663.6L1240.0,662.4L1242.0,661.1L1244.0,659.9L1246.0,658.6L1248.0,657.2L1250.0,655.9L1252.0,654.5L1254.0,653.1L1256.0,651.7L1258.0,650.3L1260.0,648.8L1262.0,647.4L1264.0,645.8L1266.0,644.3L1268.0,642.8L1270.0,641.2L1272.0,639.6L1274.0,638.0L1276.0,636.4L1278.0,634.7L1280.0,633.0L1282.0,631.3L1284.0,629.6L1286.0,627.9L1288.0,626.1L1290.0,624.4L1292.0,622.6L1294.0,620.7L1296.0,618.9L1298.0,617.1L1300.0,615.2L1302.0,613.3L1304.0,611.4L1306.0,609.5L1308.0,607.5L1310.0,605.6L1312.0,603.6L1314.0,601.6L1316.0,599.6L1318.0,597.6L1320.0,595.5L1322.0,593.5L1324.0,591.4L1326.0,589.3L1328.0,587.2L1330.0,585.1L1332.0,583.0L1334.0,580.8L1336.0,578.7L1338.0,576.5L1340.0,574.3L1342.0,572.1L1344.0,569.9L1346.0,567.7L1348.0,565.4L1350.0,563.2L1352.0,560.9L1354.0,558.6L1356.0,556.3L1358.0,554.0L1360.0,551.7L1362.0,549.4L1364.0,547.1L1366.0,544.7L1368.0,542.3L1370.0,540.0L1372.0,537.6L1374.0,535.2L1376.0,532.8L1378.0,530.3L1380.0,527.9L1382.0,525.5L1384.0,523.0L1386.0,520.5L1388.0,518.1L1390.0,515.6L1392.0,513.1L1394.0,510.6L1396.0,508.1L1398.0,505.5L1400.0,503.0L1402.0,500.4L1404.0,497.9L1406.0,495.3L1408.0,492.7L1410.0,490.1L1412.0,487.5L1414.0,484.9L1416.0,482.3L1418.0,479.7L1420.0,477.0L1422.0,474.4L1424.0,471.7L1426.0,469.1L1428.0,466.4L1430.0,463.7L1432.0,461.0L1434.0,458.3L1436.0,455.6L1438.0,452.9L1440.0,450.2L1442.0,447.5L1444.0,444.7L1446.0,442.0L1448.0,439.2L1450.0,436.5L1452.0,433.7L1454.0,430.9L1456.0,428.1L1458.0,425.4L1460.0,422.6L1462.0,419.8L1464.0,416.9L1466.0,414.1L1468.0,411.3L1470.0,408.5L1472.0,405.6L1474.0,402.8L1476.0,399.9L1478.0,397.1L1480.0,394.2L1482.0,391.4L1484.0,388.5L1486.0,385.6L1488.0,382.7L1490.0,379.8L1492.0,376.9L1494.0,374.0L1496.0,371.1L1498.0,368.2L1500.0,365.3L1502.0,362.4L1504.0,359.4L1506.0,356.5L1508.0,353.6L1510.0,350.6L1512.0,347.7L1514.0,344.7L1516.0,341.8L1518.0,338.8L1520.0,335.9L1522.0,332.9L1524.0,329.9L1526.0,327.0L1528.0,324.0L1530.0,321.0L1532.0,318.0L1534.0,315.0L1536.0,312.0L1538.0,309.0L1540.0,306.0L1542.0,303.0L1544.0,300.0L1546.0,296.9L1548.0,293.9L1550.0,290.9L1552.0,287.8L1554.0,284.8L1556.0,281.7L1558.0,278.7L1560.0,275.6L1562.0,272.6L1564.0,269.5L1566.0,266.4L1568.0,263.3L1570.0,260.2L1572.0,257.1L1574.0,254.0L1576.0,250.9L1578.0,247.8L1580.0,244.7L1582.0,241.5L1584.0,238.4L1586.0,235.3L1588.0,232.1L1590.0,229.0L1592.0,225.8L1594.0,222.6L1596.0,219.5L1598.0,216.3L1600.0,213.1L1602.0,209.9L1604.0,206.7L1606.0,203.5L1608.0,200.3L1610.0,197.1L1612.0,193.8L1614.0,190.6L1616.0,187.4L1618.0,184.1L1620.0,180.8L1622.0,177.6L1624.0,174.3L1626.0,171.0L1628.0,167.7L1630.0,164.4L1632.0,161.1L1634.0,157.8L1636.0,154.5" stroke="#0000ff" stroke-width="6.2" fill="none" stroke-linejoin="round"/>
<path d="M236.0,1004.9L238.0,1002.5L240.0,1000.0L242.0,997.7L244.0,995.3L246.0,992.9L248.0,990.6L250.0,988.3L252.0,986.0L254.0,983.8L256.0,981.5L258.0,979.3L260.0,977.1L262.0,974.9L264.0,972.8L266.0,970.6L268.0,968.5L270.0,966.4L272.0,964.3L274.0,962.2L276.0,960.2L278.0,958.2L280.0,956.1L282.0,954.1L284.0,952.2L286.0,950.2L288.0,948.2L290.0,946.3L292.0,944.4L294.0,942.4L296.0,940.5L298.0,938.6L300.0,936.8L302.0,934.9L304.0,933.1L306.0,931.2L308.0,929.4L310.0,927.6L312.0,925.8L314.0,924.0L316.0,922.2L318.0,920.4L320.0,918.6L322.0,916.8L324.0,915.1L326.0,913.3L328.0,911.6L330.0,909.9L332.0,908.2L334.0,906.4L336.0,904.7L338.0,903.0L340.0,901.3L342.0,899.7L344.0,898.0L346.0,896.3L348.0,894.6L350.0,893.0L352.0,891.3L354.0,889.7L356.0,888.0L358.0,886.4L360.0,884.8L362.0,883.2L364.0,881.5L366.0,879.9L368.0,878.3L370.0,876.7L372.0,875.1L374.0,873.5L376.0,872.0L378.0,870.4L380.0,868.8L382.0,867.2L384.0,865.7L386.0,864.1L388.0,862.5L390.0,861.0L392.0,859.4L394.0,857.9L396.0,856.3L398.0,854.8L400.0,853.3L402.0,851.7L404.0,850.2L406.0,848.7L408.0,847.2L410.0,845.6L412.0,844.1L414.0,842.6L416.0,841.1L418.0,839.6L420.0,838.1L422.0,836.6L424.0,835.2L426.0,833.7L428.0,832.3L430.0,830.9L432.0,829.5L434.0,828.1L436.0,826.7L438.0,825.3L440.0,824.0L442.0,822.7L444.0,821.4L446.0,820.1L448.0,818.8L450.0,817.6L452.0,816.4L454.0,815.2L456.0,814.0L458.0,812.9L460.0,811.7L462.0,810.6L464.0,809.5L466.0,808.4L468.0,807.3L470.0,806.3L472.0,805.2L474.0,804.2L476.0,803.2L478.0,802.2L480.0,801.2L482.0,800.2L484.0,799.2L486.0,798.2L488.0,797.2L490.0,796.3L492.0,795.3L494.0,794.3L496.0,793.4L498.0,792.4L500.0,791.5L502.0,790.5L504.0,789.6L506.0,788.7L508.0,787.7L510.0,786.8L512.0,785.8L514.0,784.9L516.0,784.0L518.0,783.0L520.0,782.1L522.0,781.2L524.0,780.2L526.0,779.3L528.0,778.4L530.0,777.5L532.0,776.5L534.0,775.6L536.0,774.7L538.0,773.8L540.0,773.0L542.0,772.1L544.0,771.2L546.0,770.3L548.0,769.5L550.0,768.6L552.0,767.8L554.0,766.9L556.0,766.1L558.0,765.3L560.0,764.5L562.0,763.7L564.0,762.9L566.0,762.2L568.0,761.4L570.0,760.7L572.0,759.9L574.0,759.2L576.0,758.5L578.0,757.8L580.0,757.1L582.0,756.5L584.0,755.8L586.0,755.2L588.0,754.6L590.0,754.0L592.0,753.4L594.0,752.8L596.0,752.3L598.0,751.8L600.0,751.2L602.0,750.8L604.0,750.3L606.0,749.8L608.0,749.4L610.0,749.0L612.0,748.5L614.0,748.2L616.0,747.8L618.0,747.4L620.0,747.1L622.0,746.7L624.0,746.4L626.0,746.1L628.0,745.8L630.0,745.5L632.0,745.2L634.0,744.9L636.0,744.6L638.0,744.3L640.0,744.1L642.0,743.8L644.0,743.6L646.0,743.3L648.0,743.1L650.0,742.9L652.0,742.6L654.0,742.4L656.0,742.2L658.0,742.0L660.0,741.8L662.0,741.6L664.0,741.4L666.0,741.2L668.0,741.0L670.0,740.8L672.0,740.6L674.0,740.4L676.0,740.3L678.0,740.1L680.0,740.0L682.0,739.8L684.0,739.6L686.0,739.5L688.0,739.4L690.0,739.2L692.0,739.1L694.0,739.0L696.0,738.8L698.0,738.7L700.0,738.6L702.0,738.5L704.0,738.4L706.0,738.3L708.0,738.2L710.0,738.1L712.0,738.0L714.0,737.9L716.0,737.9L718.0,737.8L720.0,737.7L722.0,737.6L724.0,737.6L726.0,737.5L728.0,737.5L730.0,737.4L732.0,737.4L734.0,737.3L736.0,737.3L738.0,737.2L740.0,737.2L742.0,737.2L744.0,737.1L746.0,737.1L748.0,737.1L750.0,737.1L752.0,737.1L754.0,737.1L756.0,737.1L758.0,737.1L760.0,737.1L762.0,737.1L764.0,737.1L766.0,737.1L768.0,737.1L770.0,737.1L772.0,737.1L774.0,737.1L776.0,737.2L778.0,737.2L780.0,737.2L782.0,737.3L784.0,737.3L786.0,737.3L788.0,737.4L790.0,737.4L792.0,737.5L794.0,737.5L796.0,737.6L798.0,737.6L800.0,737.7L802.0,737.7L804.0,737.8L806.0,737.9L808.0,737.9L810.0,738.0L812.0,738.1L814.0,738.1L816.0,738.2L818.0,738.3L820.0,738.4L822.0,738.5L824.0,738.5L826.0,738.6L828.0,738.7L830.0,738.8L832.0,738.9L834.0,739.0L836.0,739.1L838.0,739.2L840.0,739.3L842.0,739.4L844.0,739.5L846.0,739.6L848.0,739.7L850.0,739.8L852.0,739.9L854.0,740.0L856.0,740.1L858.0,740.2L860.0,740.3L862.0,740.4L864.0,740.5L866.0,740.6L868.0,740.7L870.0,740.9L872.0,741.0L874.0,741.1L876.0,741.2L878.0,741.3L880.0,741.4L882.0,741.5L884.0,741.6L886.0,741.7L888.0,741.8L890.0,741.9L892.0,742.0L894.0,742.1L896.0,742.1L898.0,742.2L900.0,742.3L902.0,742.4L904.0,742.5L906.0,742.5L908.0,742.6L910.0,742.7L912.0,742.7L914.0,742.8L916.0,742.9L918.0,742.9L920.0,743.0L922.0,743.0L924.0,743.0L926.0,743.1L928.0,743.1L930.0,743.1L932.0,743.2L934.0,743.2L936.0,743.2L938.0,743.2L940.0,743.2L942.0,743.2L944.0,743.2L946.0,743.2L948.0,743.1L950.0,743.1L952.0,743.1L954.0,743.0L956.0,743.0L958.0,742.9L960.0,742.8L962.0,742.8L964.0,742.7L966.0,742.6L968.0,742.5L970.0,742.4L972.0,742.3L974.0,742.2L976.0,742.1L978.0,741.9L980.0,741.8L982.0,741.6L984.0,741.5L986.0,741.3L988.0,741.1L990.0,740.9L992.0,740.7L994.0,740.5L996.0,740.3L998.0,740.1L1000.0,739.9L1002.0,739.6L1004.0,739.4L1006.0,739.2L1008.0,738.9L1010.0,738.6L1012.0,738.4L1014.0,738.1L1016.0,737.8L1018.0,737.5L1020.0,737.2L1022.0,736.9L1024.0,736.6L1026.0,736.3L1028.0,735.9L1030.0,735.6L1032.0,735.3L1034.0,734.9L1036.0,734.6L1038.0,734.2L1040.0,733.8L1042.0,733.5L1044.0,733.1L1046.0,732.7L1048.0,732.3L1050.0,731.9L1052.0,731.5L1054.0,731.1L1056.0,730.7L1058.0,730.3L1060.0,729.9L1062.0,729.5L1064.0,729.0L1066.0,728.6L1068.0,728.2L1070.0,727.7L1072.0,727.3L1074.0,726.8L1076.0,726.4L1078.0,725.9L1080.0,725.5L1082.0,725.0L1084.0,724.5L1086.0,724.0L1088.0,723.6L1090.0,723.1L1092.0,722.6L1094.0,722.1L1096.0,721.6L1098.0,721.1L1100.0,720.6L1102.0,720.1L1104.0,719.6L1106.0,719.1L1108.0,718.6L1110.0,718.1L1112.0,717.5L1114.0,717.0L1116.0,716.5L1118.0,716.0L1120.0,715.4L1122.0,714.9L1124.0,714.4L1126.0,713.8L1128.0,713.3L1130.0,712.8L1132.0,712.2L1134.0,711.7L1136.0,711.1L1138.0,710.6L1140.0,710.0L1142.0,709.5L1144.0,708.9L1146.0,708.4L1148.0,707.8L1150.0,707.2L1152.0,706.7L1154.0,706.1L1156.0,705.5L1158.0,704.9L1160.0,704.3L1162.0,703.7L1164.0,703.1L1166.0,702.4L1168.0,701.8L1170.0,701.1L1172.0,700.5L1174.0,699.8L1176.0,699.1L1178.0,698.5L1180.0,697.8L1182.0,697.1L1184.0,696.3L1186.0,695.6L1188.0,694.9L1190.0,694.1L1192.0,693.3L1194.0,692.6L1196.0,691.8L1198.0,690.9L1200.0,690.1L1202.0,689.3L1204.0,688.4L1206.0,687.5L1208.0,686.7L1210.0,685.7L1212.0,684.8L1214.0,683.9L1216.0,682.9L1218.0,681.9L1220.0,680.9L1222.0,679.9L1224.0,678.9L1226.0,677.8L1228.0,676.8L1230.0,675.7L1232.0,674.5L1234.0,673.4L1236.0,672.2L1238.0,671.1L1240.0,669.9L1242.0,668.6L1244.0,667.4L1246.0,666.1L1248.0,664.8L1250.0,663.5L1252.0,662.2L1254.0,660.8L1256.0,659.4L1258.0,658.0L1260.0,656.6L1262.0,655.1L1264.0,653.6L1266.0,652.2L1268.0,650.6L1270.0,649.1L1272.0,647.5L1274.0,646.0L1276.0,644.4L1278.0,642.7L1280.0,641.1L1282.0,639.5L1284.0,637.8L1286.0,636.1L1288.0,634.3L1290.0,632.6L1292.0,630.9L1294.0,629.1L1296.0,627.3L1298.0,625.5L1300.0,623.6L1302.0,621.8L1304.0,619.9L1306.0,618.0L1308.0,616.1L1310.0,614.2L1312.0,612.2L1314.0,610.2L1316.0,608.3L1318.0,606.3L1320.0,604.2L1322.0,602.2L1324.0,600.2L1326.0,598.1L1328.0,596.0L1330.0,593.9L1332.0,591.8L1334.0,589.6L1336.0,587.5L1338.0,585.3L1340.0,583.2L1342.0,581.0L1344.0,578.7L1346.0,576.5L1348.0,574.3L1350.0,572.0L1352.0,569.8L1354.0,567.5L1356.0,565.2L1358.0,562.9L1360.0,560.6L1362.0,558.2L1364.0,555.9L1366.0,553.5L1368.0,551.1L1370.0,548.7L1372.0,546.3L1374.0,543.9L1376.0,541.5L1378.0,539.1L1380.0,536.6L1382.0,534.2L1384.0,531.7L1386.0,529.2L1388.0,526.7L1390.0,524.2L1392.0,521.7L1394.0,519.2L1396.0,516.7L1398.0,514.1L1400.0,511.6L1402.0,509.0L1404.0,506.4L1406.0,503.9L1408.0,501.3L1410.0,498.7L1412.0,496.1L1414.0,493.5L1416.0,490.8L1418.0,488.2L1420.0,485.6L1422.0,482.9L1424.0,480.3L1426.0,477.6L1428.0,475.0L1430.0,472.3L1432.0,469.6L1434.0,466.9L1436.0,464.2L1438.0,461.5L1440.0,458.8L1442.0,456.1L1444.0,453.4L1446.0,450.7L1448.0,448.0L1450.0,445.2L1452.0,442.5L1454.0,439.8L1456.0,437.0L1458.0,434.3L1460.0,431.5L1462.0,428.8L1464.0,426.0L1466.0,423.2L1468.0,420.5L1470.0,417.7L1472.0,414.9L1474.0,412.2L1476.0,409.4L1478.0,406.6L1480.0,403.8L1482.0,401.1L1484.0,398.3L1486.0,395.5L1488.0,392.7L1490.0,389.9L1492.0,387.1L1494.0,384.3L1496.0,381.5L1498.0,378.7L1500.0,375.9L1502.0,373.0L1504.0,370.2L1506.0,367.3L1508.0,364.4L1510.0,361.5L1512.0,358.6L1514.0,355.7L1516.0,352.8L1518.0,349.8L1520.0,346.8L1522.0,343.8L1524.0,340.8L1526.0,337.7L1528.0,334.7L1530.0,331.6L1532.0,328.5L1534.0,325.4L1536.0,322.3L1538.0,319.2L1540.0,316.1L1542.0,312.9L1544.0,309.8L1546.0,306.6L1548.0,303.5L1550.0,300.3L1552.0,297.1L1554.0,294.0L1556.0,290.8L1558.0,287.7L1560.0,284.5L1562.0,281.3L1564.0,278.2L1566.0,275.0L1568.0,271.8L1570.0,268.7L1572.0,265.5L1574.0,262.4L1576.0,259.3L1578.0,256.1L1580.0,253.0L1582.0,249.9L1584.0,246.8L1586.0,243.7L1588.0,240.6L1590.0,237.5L1592.0,234.5L1594.0,231.4L1596.0,228.4L1598.0,225.4L1600.0,222.3L1602.0,219.3L1604.0,216.4L1606.0,213.4L1608.0,210.4L1610.0,207.5L1612.0,204.6L1614.0,201.7L1616.0,198.8L1618.0,196.0L1620.0,193.1L1622.0,190.3L1624.0,187.5L1626.0,184.8L1628.0,182.0L1630.0,179.3L1632.0,176.6L1634.0,173.9L1636.0,171.3" stroke="#00e619" stroke-width="6.2" fill="none" stroke-linejoin="round"/>
<path d="M236.0,1031.5L238.0,1028.8L240.0,1026.2L242.0,1023.5L244.0,1021.0L246.0,1018.4L248.0,1015.9L250.0,1013.5L252.0,1011.0L254.0,1008.6L256.0,1006.3L258.0,1003.9L260.0,1001.6L262.0,999.3L264.0,997.1L266.0,994.9L268.0,992.7L270.0,990.5L272.0,988.4L274.0,986.2L276.0,984.2L278.0,982.1L280.0,980.0L282.0,978.0L284.0,976.0L286.0,974.0L288.0,972.0L290.0,970.1L292.0,968.1L294.0,966.2L296.0,964.3L298.0,962.4L300.0,960.5L302.0,958.6L304.0,956.8L306.0,954.9L308.0,953.1L310.0,951.2L312.0,949.4L314.0,947.6L316.0,945.8L318.0,944.0L320.0,942.2L322.0,940.4L324.0,938.6L326.0,936.8L328.0,935.0L330.0,933.2L332.0,931.4L334.0,929.6L336.0,927.8L338.0,926.0L340.0,924.2L342.0,922.4L344.0,920.6L346.0,918.8L348.0,917.0L350.0,915.1L352.0,913.3L354.0,911.5L356.0,909.6L358.0,907.8L360.0,905.9L362.0,904.0L364.0,902.2L366.0,900.3L368.0,898.4L370.0,896.6L372.0,894.7L374.0,892.8L376.0,890.9L378.0,889.0L380.0,887.2L382.0,885.3L384.0,883.4L386.0,881.5L388.0,879.7L390.0,877.8L392.0,875.9L394.0,874.0L396.0,872.2L398.0,870.3L400.0,868.4L402.0,866.6L404.0,864.7L406.0,862.9L408.0,861.0L410.0,859.2L412.0,857.4L414.0,855.5L416.0,853.7L418.0,851.9L420.0,850.1L422.0,848.3L424.0,846.5L426.0,844.7L428.0,843.0L430.0,841.2L432.0,839.4L434.0,837.7L436.0,836.0L438.0,834.2L440.0,832.5L442.0,830.8L444.0,829.1L446.0,827.4L448.0,825.7L450.0,824.0L452.0,822.3L454.0,820.7L456.0,819.0L458.0,817.4L460.0,815.7L462.0,814.1L464.0,812.5L466.0,810.9L468.0,809.3L470.0,807.7L472.0,806.1L474.0,804.5L476.0,802.9L478.0,801.4L480.0,799.8L482.0,798.3L484.0,796.7L486.0,795.2L488.0,793.7L490.0,792.2L492.0,790.7L494.0,789.2L496.0,787.7L498.0,786.3L500.0,784.8L502.0,783.3L504.0,781.9L506.0,780.5L508.0,779.0L510.0,777.6L512.0,776.2L514.0,774.8L516.0,773.4L518.0,772.0L520.0,770.6L522.0,769.2L524.0,767.8L526.0,766.4L528.0,765.1L530.0,763.7L532.0,762.3L534.0,761.0L536.0,759.7L538.0,758.3L540.0,757.0L542.0,755.7L544.0,754.4L546.0,753.1L548.0,751.9L550.0,750.6L552.0,749.4L554.0,748.1L556.0,746.9L558.0,745.7L560.0,744.5L562.0,743.3L564.0,742.2L566.0,741.0L568.0,739.9L570.0,738.8L572.0,737.7L574.0,736.7L576.0,735.6L578.0,734.6L580.0,733.6L582.0,732.6L584.0,731.6L586.0,730.7L588.0,729.7L590.0,728.8L592.0,727.9L594.0,727.1L596.0,726.2L598.0,725.4L600.0,724.6L602.0,723.9L604.0,723.1L606.0,722.4L608.0,721.8L610.0,721.1L612.0,720.4L614.0,719.8L616.0,719.2L618.0,718.7L620.0,718.1L622.0,717.6L624.0,717.1L626.0,716.6L628.0,716.1L630.0,715.7L632.0,715.2L634.0,714.8L636.0,714.4L638.0,714.1L640.0,713.7L642.0,713.4L644.0,713.1L646.0,712.8L648.0,712.5L650.0,712.2L652.0,712.0L654.0,711.7L656.0,711.5L658.0,711.3L660.0,711.1L662.0,710.9L664.0,710.7L666.0,710.6L668.0,710.4L670.0,710.3L672.0,710.2L674.0,710.1L676.0,710.0L678.0,709.9L680.0,709.9L682.0,709.8L684.0,709.8L686.0,709.7L688.0,709.7L690.0,709.7L692.0,709.7L694.0,709.7L696.0,709.7L698.0,709.8L700.0,709.8L702.0,709.8L704.0,709.9L706.0,710.0L708.0,710.0L710.0,710.1L712.0,710.2L714.0,710.3L716.0,710.4L718.0,710.6L720.0,710.7L722.0,710.8L724.0,711.0L726.0,711.1L728.0,711.3L730.0,711.4L732.0,711.6L734.0,711.8L736.0,711.9L738.0,712.1L740.0,712.3L742.0,712.5L744.0,712.7L746.0,712.9L748.0,713.2L750.0,713.4L752.0,713.6L754.0,713.8L756.0,714.1L758.0,714.3L760.0,714.5L762.0,714.8L764.0,715.0L766.0,715.3L768.0,715.5L770.0,715.8L772.0,716.0L774.0,716.3L776.0,716.6L778.0,716.8L780.0,717.1L782.0,717.3L784.0,717.6L786.0,717.9L788.0,718.2L790.0,718.4L792.0,718.7L794.0,719.0L796.0,719.2L798.0,719.5L800.0,719.8L802.0,720.0L804.0,720.3L806.0,720.6L808.0,720.9L810.0,721.1L812.0,721.4L814.0,721.7L816.0,721.9L818.0,722.2L820.0,722.5L822.0,722.7L824.0,723.0L826.0,723.3L828.0,723.5L830.0,723.8L832.0,724.1L834.0,724.3L836.0,724.6L838.0,724.8L840.0,725.1L842.0,725.4L844.0,725.6L846.0,725.9L848.0,726.1L850.0,726.4L852.0,726.6L854.0,726.9L856.0,727.1L858.0,727.3L860.0,727.6L862.0,727.8L864.0,728.0L866.0,728.3L868.0,728.5L870.0,728.7L872.0,728.9L874.0,729.2L876.0,729.4L878.0,729.6L880.0,729.8L882.0,730.0L884.0,730.2L886.0,730.4L888.0,730.6L890.0,730.8L892.0,731.0L894.0,731.2L896.0,731.4L898.0,731.6L900.0,731.7L902.0,731.9L904.0,732.1L906.0,732.2L908.0,732.4L910.0,732.6L912.0,732.7L914.0,732.9L916.0,733.0L918.0,733.1L920.0,733.3L922.0,733.4L924.0,733.5L926.0,733.6L928.0,733.8L930.0,733.9L932.0,734.0L934.0,734.1L936.0,734.2L938.0,734.2L940.0,734.3L942.0,734.4L944.0,734.5L946.0,734.5L948.0,734.6L950.0,734.7L952.0,734.7L954.0,734.8L956.0,734.8L958.0,734.8L960.0,734.8L962.0,734.9L964.0,734.9L966.0,734.9L968.0,734.9L970.0,734.9L972.0,734.9L974.0,734.9L976.0,734.8L978.0,734.8L980.0,734.8L982.0,734.7L984.0,734.7L986.0,734.7L988.0,734.6L990.0,734.5L992.0,734.5L994.0,734.4L996.0,734.3L998.0,734.2L1000.0,734.2L1002.0,734.1L1004.0,734.0L1006.0,733.9L1008.0,733.7L1010.0,733.6L1012.0,733.5L1014.0,733.4L1016.0,733.2L1018.0,733.1L1020.0,733.0L1022.0,732.8L1024.0,732.7L1026.0,732.5L1028.0,732.3L1030.0,732.2L1032.0,732.0L1034.0,731.8L1036.0,731.6L1038.0,731.4L1040.0,731.2L1042.0,731.0L1044.0,730.8L1046.0,730.6L1048.0,730.4L1050.0,730.2L1052.0,729.9L1054.0,729.7L1056.0,729.5L1058.0,729.2L1060.0,729.0L1062.0,728.7L1064.0,728.5L1066.0,728.2L1068.0,727.9L1070.0,727.6L1072.0,727.4L1074.0,727.1L1076.0,726.8L1078.0,726.5L1080.0,726.2L1082.0,725.9L1084.0,725.6L1086.0,725.3L1088.0,724.9L1090.0,724.6L1092.0,724.3L1094.0,723.9L1096.0,723.6L1098.0,723.2L1100.0,722.9L1102.0,722.5L1104.0,722.2L1106.0,721.8L1108.0,721.4L1110.0,721.0L1112.0,720.6L1114.0,720.2L1116.0,719.8L1118.0,719.4L1120.0,719.0L1122.0,718.5L1124.0,718.1L1126.0,717.7L1128.0,717.2L1130.0,716.8L1132.0,716.3L1134.0,715.8L1136.0,715.3L1138.0,714.8L1140.0,714.3L1142.0,713.8L1144.0,713.3L1146.0,712.8L1148.0,712.3L1150.0,711.7L1152.0,711.2L1154.0,710.6L1156.0,710.1L1158.0,709.5L1160.0,708.9L1162.0,708.3L1164.0,707.7L1166.0,707.1L1168.0,706.5L1170.0,705.8L1172.0,705.2L1174.0,704.6L1176.0,703.9L1178.0,703.2L1180.0,702.5L1182.0,701.9L1184.0,701.2L1186.0,700.4L1188.0,699.7L1190.0,699.0L1192.0,698.3L1194.0,697.5L1196.0,696.7L1198.0,696.0L1200.0,695.2L1202.0,694.4L1204.0,693.6L1206.0,692.7L1208.0,691.9L1210.0,691.1L1212.0,690.2L1214.0,689.3L1216.0,688.5L1218.0,687.6L1220.0,686.7L1222.0,685.8L1224.0,684.8L1226.0,683.9L1228.0,682.9L1230.0,682.0L1232.0,681.0L1234.0,680.0L1236.0,679.0L1238.0,677.9L1240.0,676.9L1242.0,675.8L1244.0,674.8L1246.0,673.7L1248.0,672.6L1250.0,671.4L1252.0,670.3L1254.0,669.1L1256.0,667.9L1258.0,666.7L1260.0,665.5L1262.0,664.3L1264.0,663.0L1266.0,661.7L1268.0,660.4L1270.0,659.1L1272.0,657.7L1274.0,656.4L1276.0,655.0L1278.0,653.5L1280.0,652.1L1282.0,650.6L1284.0,649.1L1286.0,647.6L1288.0,646.1L1290.0,644.5L1292.0,642.9L1294.0,641.3L1296.0,639.6L1298.0,638.0L1300.0,636.3L1302.0,634.5L1304.0,632.8L1306.0,631.0L1308.0,629.2L1310.0,627.3L1312.0,625.5L1314.0,623.6L1316.0,621.7L1318.0,619.7L1320.0,617.8L1322.0,615.8L1324.0,613.8L1326.0,611.7L1328.0,609.7L1330.0,607.6L1332.0,605.5L1334.0,603.4L1336.0,601.3L1338.0,599.1L1340.0,596.9L1342.0,594.7L1344.0,592.5L1346.0,590.3L1348.0,588.0L1350.0,585.8L1352.0,583.5L1354.0,581.2L1356.0,578.9L1358.0,576.5L1360.0,574.2L1362.0,571.8L1364.0,569.4L1366.0,567.1L1368.0,564.7L1370.0,562.2L1372.0,559.8L1374.0,557.4L1376.0,554.9L1378.0,552.5L1380.0,550.0L1382.0,547.5L1384.0,545.0L1386.0,542.5L1388.0,540.0L1390.0,537.5L1392.0,535.0L1394.0,532.5L1396.0,529.9L1398.0,527.4L1400.0,524.8L1402.0,522.3L1404.0,519.7L1406.0,517.1L1408.0,514.6L1410.0,512.0L1412.0,509.4L1414.0,506.8L1416.0,504.2L1418.0,501.6L1420.0,499.0L1422.0,496.4L1424.0,493.8L1426.0,491.2L1428.0,488.5L1430.0,485.9L1432.0,483.3L1434.0,480.6L1436.0,478.0L1438.0,475.4L1440.0,472.7L1442.0,470.0L1444.0,467.4L1446.0,464.7L1448.0,462.0L1450.0,459.4L1452.0,456.7L1454.0,454.0L1456.0,451.3L1458.0,448.6L1460.0,446.0L1462.0,443.3L1464.0,440.6L1466.0,437.9L1468.0,435.1L1470.0,432.4L1472.0,429.7L1474.0,427.0L1476.0,424.2L1478.0,421.5L1480.0,418.7L1482.0,416.0L1484.0,413.2L1486.0,410.4L1488.0,407.6L1490.0,404.8L1492.0,402.0L1494.0,399.1L1496.0,396.3L1498.0,393.4L1500.0,390.5L1502.0,387.6L1504.0,384.7L1506.0,381.8L1508.0,378.9L1510.0,375.9L1512.0,373.0L1514.0,370.0L1516.0,367.1L1518.0,364.1L1520.0,361.1L1522.0,358.1L1524.0,355.1L1526.0,352.1L1528.0,349.0L1530.0,346.0L1532.0,343.0L1534.0,340.0L1536.0,336.9L1538.0,333.9L1540.0,330.8L1542.0,327.7L1544.0,324.7L1546.0,321.6L1548.0,318.6L1550.0,315.5L1552.0,312.4L1554.0,309.4L1556.0,306.3L1558.0,303.2L1560.0,300.1L1562.0,297.1L1564.0,294.0L1566.0,290.9L1568.0,287.9L1570.0,284.8L1572.0,281.7L1574.0,278.7L1576.0,275.6L1578.0,272.6L1580.0,269.5L1582.0,266.5L1584.0,263.5L1586.0,260.4L1588.0,257.4L1590.0,254.4L1592.0,251.4L1594.0,248.4L1596.0,245.4L1598.0,242.4L1600.0,239.4L1602.0,236.5L1604.0,233.5L1606.0,230.6L1608.0,227.6L1610.0,224.7L1612.0,221.8L1614.0,218.9L1616.0,216.0L1618.0,213.1L1620.0,210.3L1622.0,207.4L1624.0,204.6L1626.0,201.8L1628.0,199.0L1630.0,196.2L1632.0,193.4L1634.0,190.7L1636.0,187.9" stroke="#ffff00" stroke-width="6.2" fill="none" stroke-linejoin="round"/>
<path d="M268.8,952.7L269.0,952.6L270.5,952.1L272.0,951.6L273.5,951.1L275.0,950.6L276.5,950.1L278.0,949.6L279.5,949.1L281.0,948.6L282.5,948.1L284.0,947.6L285.5,947.2L287.0,946.7L288.5,946.2L290.0,945.7L291.5,945.2L293.0,944.7L294.5,944.2L296.0,943.7L297.5,943.3L299.0,942.8L300.5,942.3L302.0,941.8L303.5,941.3M341.3,929.6L341.5,929.5L343.0,929.0L344.5,928.6L346.0,928.1L347.5,927.7L349.0,927.2L350.5,926.8L352.0,926.4L353.5,925.9L355.0,925.5L356.5,925.0L358.0,924.6L359.5,924.1L361.0,923.7L362.5,923.3L364.0,922.8L365.5,922.4L367.0,922.0L368.5,921.5L370.0,921.1L371.5,920.7L373.0,920.3L374.5,919.8L376.0,919.4L376.2,919.4M410.0,910.3L410.5,910.2L412.0,909.8L413.5,909.4L415.0,909.0L416.5,908.6L418.0,908.3L419.5,907.9L421.0,907.5L422.5,907.1L424.0,906.8L425.5,906.4L427.0,906.1L428.5,905.7L430.0,905.3L431.5,905.0L433.0,904.6L434.5,904.3L436.0,903.9L437.5,903.6L439.0,903.2L440.5,902.9L442.0,902.5L443.5,902.2L445.0,901.9L445.3,901.8M482.5,894.1L483.0,894.0L484.5,893.7L486.0,893.4L487.5,893.2L489.0,892.9L490.5,892.6L492.0,892.3L493.5,892.1L495.0,891.8L496.5,891.5L498.0,891.3L499.5,891.0L501.0,890.8L502.5,890.5L504.0,890.2L505.5,890.0L507.0,889.7L508.5,889.5L510.0,889.2L511.5,889.0L513.0,888.8L514.5,888.5L516.0,888.3L517.5,888.0L518.1,888.0M553.8,883.0L554.0,882.9L555.5,882.8L557.0,882.6L558.5,882.4L560.0,882.2L561.5,882.0L563.0,881.9L564.5,881.7L566.0,881.5L567.5,881.4L569.0,881.2L570.5,881.0L572.0,880.9L573.5,880.7L575.0,880.5L576.5,880.4L578.0,880.2L579.5,880.1L581.0,879.9L582.5,879.8L584.0,879.6L585.5,879.5L587.0,879.4L588.5,879.2L589.6,879.1M624.3,876.5L624.5,876.5L626.0,876.4L627.5,876.3L629.0,876.2L630.5,876.1L632.0,876.0L633.5,875.9L635.0,875.9L636.5,875.8L638.0,875.7L639.5,875.6L641.0,875.6L642.5,875.5L644.0,875.4L645.5,875.4L647.0,875.3L648.5,875.2L650.0,875.2L651.5,875.1L653.0,875.1L654.5,875.0L656.0,875.0L657.5,874.9L659.0,874.9L660.3,874.8M695.7,874.2L696.0,874.2L697.5,874.2L699.0,874.2L700.5,874.2L702.0,874.2L703.5,874.2L705.0,874.3L706.5,874.3L708.0,874.3L709.5,874.3L711.0,874.3L712.5,874.3L714.0,874.3L715.5,874.3L717.0,874.4L718.5,874.4L720.0,874.4L721.5,874.4L723.0,874.5L724.5,874.5L726.0,874.5L727.5,874.5L729.0,874.6L730.5,874.6L731.7,874.6M766.7,875.8L767.0,875.8L768.5,875.9L770.0,876.0L771.5,876.0L773.0,876.1L774.5,876.2L776.0,876.2L777.5,876.3L779.0,876.4L780.5,876.5L782.0,876.5L783.5,876.6L785.0,876.7L786.5,876.8L788.0,876.9L789.5,876.9L791.0,877.0L792.5,877.1L794.0,877.2L795.5,877.3L797.0,877.4L798.5,877.5L800.0,877.6L801.5,877.6L802.7,877.7M838.8,880.2L839.0,880.3L840.5,880.4L842.0,880.5L843.5,880.6L845.0,880.7L846.5,880.8L848.0,881.0L849.5,881.1L851.0,881.2L852.5,881.3L854.0,881.4L855.5,881.6L857.0,881.7L858.5,881.8L860.0,881.9L861.5,882.1L863.0,882.2L864.5,882.3L866.0,882.4L867.5,882.6L869.0,882.7L870.5,882.8L872.0,883.0L873.5,883.1L874.7,883.2M909.7,886.2L910.0,886.3L911.5,886.4L913.0,886.5L914.5,886.6L916.0,886.7L917.5,886.9L919.0,887.0L920.5,887.1L922.0,887.2L923.5,887.3L925.0,887.4L926.5,887.5L928.0,887.6L929.5,887.7L931.0,887.8L932.5,887.9L934.0,888.0L935.5,888.1L937.0,888.1L938.5,888.2L940.0,888.3L941.5,888.4L943.0,888.4L944.5,888.5L945.6,888.6M981.8,888.9L982.0,888.9L983.5,888.9L985.0,888.8L986.5,888.8L988.0,888.7L989.5,888.7L991.0,888.6L992.5,888.5L994.0,888.4L995.5,888.3L997.0,888.2L998.5,888.1L1000.0,888.0L1001.5,887.9L1003.0,887.8L1004.5,887.7L1006.0,887.5L1007.5,887.4L1009.0,887.2L1010.5,887.1L1012.0,886.9L1013.5,886.7L1015.0,886.6L1016.5,886.4L1017.7,886.2M1055.7,878.7L1056.0,878.6L1057.5,878.2L1059.0,877.8L1060.5,877.4L1062.0,876.9L1063.5,876.5L1065.0,876.0L1066.5,875.5L1068.0,875.0L1069.5,874.6L1071.0,874.0L1072.5,873.5L1074.0,873.0L1075.5,872.5L1077.0,871.9L1078.5,871.4L1080.0,870.8L1081.5,870.2L1083.0,869.6L1084.5,869.0L1086.0,868.4L1087.5,867.8L1089.0,867.2L1090.1,866.7M1125.4,848.6L1125.5,848.5L1127.0,847.6L1128.5,846.8L1130.0,845.8L1131.5,844.9L1133.0,844.0L1134.5,843.1L1136.0,842.1L1137.5,841.2L1139.0,840.2L1140.5,839.3L1142.0,838.3L1143.5,837.3L1145.0,836.3L1146.5,835.3L1148.0,834.3L1149.5,833.3L1151.0,832.3L1152.5,831.3L1154.0,830.2L1155.5,829.2L1156.9,828.2M1202.0,794.0L1202.5,793.6L1204.0,792.4L1205.5,791.1L1207.0,789.9L1208.5,788.6L1210.0,787.3L1211.5,786.0L1213.0,784.7L1214.5,783.4L1216.0,782.1L1217.5,780.7L1219.0,779.3L1220.5,777.9L1222.0,776.5L1223.5,775.1L1225.0,773.6L1226.5,772.2L1228.0,770.7L1229.5,769.1L1230.4,768.2M1249.7,747.1L1250.0,746.8L1251.5,745.2L1253.0,743.6L1254.5,742.0L1256.0,740.5L1257.5,738.9L1259.0,737.4L1260.5,735.9L1262.0,734.4L1263.5,732.9L1265.0,731.5L1266.5,730.0L1268.0,728.6L1269.5,727.1L1271.0,725.7L1272.5,724.3L1274.0,722.8L1275.5,721.4L1277.0,720.0L1277.1,719.9M1297.3,700.0L1297.5,699.8L1299.0,698.2L1300.5,696.6L1302.0,695.0L1303.5,693.4L1305.0,691.8L1306.5,690.2L1308.0,688.6L1309.5,686.9L1311.0,685.3L1312.5,683.6L1314.0,681.9L1315.5,680.2L1317.0,678.5L1318.5,676.8L1320.0,675.1L1321.5,673.3L1323.0,671.6L1323.4,671.1M1341.7,648.9L1342.0,648.5L1343.5,646.6L1345.0,644.7L1346.5,642.7L1348.0,640.8L1349.5,638.9L1351.0,636.9L1352.5,635.0L1354.0,633.0L1355.5,631.0L1357.0,629.0L1358.5,627.0L1360.0,625.0L1361.5,623.0L1363.0,621.0L1364.5,618.9L1365.6,617.4M1382.5,593.7L1383.0,593.0L1384.5,590.8L1386.0,588.7L1387.5,586.5L1389.0,584.3L1390.5,582.1L1392.0,579.9L1393.5,577.7L1395.0,575.4L1396.5,573.2L1398.0,571.0L1399.5,568.7L1401.0,566.4L1402.5,564.2L1404.0,561.9L1404.8,560.7M1431.3,519.1L1431.5,518.8L1433.0,516.4L1434.5,514.0L1436.0,511.5L1437.5,509.1L1439.0,506.6L1440.5,504.2L1442.0,501.7L1443.5,499.3L1445.0,496.8L1446.5,494.3L1448.0,491.8L1449.5,489.4L1451.0,486.9L1452.2,484.8M1472.5,451.0L1473.0,450.1L1474.5,447.6L1476.0,445.1L1477.5,442.6L1479.0,440.1L1480.5,437.5L1482.0,435.0L1483.5,432.5L1485.0,429.9L1486.5,427.4L1488.0,424.8L1489.5,422.2L1491.0,419.6L1492.5,417.0L1492.9,416.3M1513.8,378.3L1514.0,378.0L1515.5,375.1L1517.0,372.3L1518.5,369.5L1520.0,366.7L1521.5,363.8L1523.0,361.0L1524.5,358.1L1526.0,355.3L1527.5,352.5L1529.0,349.6L1530.5,346.8L1532.0,343.9L1532.7,342.5M1550.0,310.3L1550.5,309.3L1552.0,306.6L1553.5,303.9L1555.0,301.2L1556.5,298.5L1558.0,295.8L1559.5,293.1L1561.0,290.4L1562.5,287.8L1564.0,285.1L1565.5,282.5L1567.0,279.9L1568.5,277.3L1569.8,275.1M1589.9,240.9L1590.0,240.7L1591.5,238.2L1593.0,235.7L1594.5,233.2L1596.0,230.7L1597.5,228.2L1599.0,225.8L1600.5,223.3L1602.0,220.8L1603.5,218.3L1605.0,215.9L1606.5,213.4L1608.0,211.0L1609.5,208.5L1610.7,206.5M1631.4,172.7L1631.5,172.5L1633.0,170.0L1634.5,167.6L1636.0,165.1" stroke="#000000" stroke-width="6.2" fill="none" stroke-linecap="butt"/>
<path d="M248.8,953.4L249.0,953.3L250.5,952.8L252.0,952.2L253.5,951.7L255.0,951.2L256.5,950.6L258.0,950.1L259.5,949.5L261.0,949.0L262.5,948.4L264.0,947.8L265.5,947.3L267.0,946.7L268.5,946.1L270.0,945.5L271.5,944.9L273.0,944.4L274.5,943.8L276.0,943.2L277.5,942.6L279.0,942.0L280.5,941.4L282.0,940.8L283.0,940.4M322.5,925.5L323.0,925.3L324.5,924.8L326.0,924.3L327.5,923.8L329.0,923.3L330.5,922.8L332.0,922.3L333.5,921.8L335.0,921.3L336.5,920.9L338.0,920.4L339.5,919.9L341.0,919.4L342.5,918.9L344.0,918.4L345.5,917.9L347.0,917.3L348.5,916.8L350.0,916.3L351.5,915.7L353.0,915.2L354.5,914.6L356.0,914.0L357.0,913.6M391.3,899.3L391.5,899.3L393.0,898.7L394.5,898.2L396.0,897.7L397.5,897.3L399.0,896.8L400.5,896.4L402.0,895.9L403.5,895.5L405.0,895.1L406.5,894.7L408.0,894.3L409.5,893.9L411.0,893.5L412.5,893.2L414.0,892.8L415.5,892.5L417.0,892.1L418.5,891.8L420.0,891.4L421.5,891.1L423.0,890.8L424.5,890.5L426.0,890.1L426.4,890.1M463.8,882.5L464.0,882.5L465.5,882.2L467.0,881.9L468.5,881.6L470.0,881.3L471.5,881.0L473.0,880.8L474.5,880.5L476.0,880.2L477.5,879.9L479.0,879.7L480.5,879.4L482.0,879.1L483.5,878.8L485.0,878.6L486.5,878.3L488.0,878.0L489.5,877.8L491.0,877.5L492.5,877.2L494.0,877.0L495.5,876.7L497.0,876.4L498.5,876.2L499.4,876.0M533.8,870.5L534.0,870.5L535.5,870.2L537.0,870.0L538.5,869.8L540.0,869.6L541.5,869.4L543.0,869.1L544.5,868.9L546.0,868.7L547.5,868.5L549.0,868.3L550.5,868.1L552.0,867.9L553.5,867.7L555.0,867.5L556.5,867.3L558.0,867.1L559.5,866.9L561.0,866.7L562.5,866.5L564.0,866.3L565.5,866.1L567.0,865.9L568.5,865.7L569.6,865.6M605.7,861.5L606.0,861.5L607.5,861.3L609.0,861.2L610.5,861.0L612.0,860.9L613.5,860.7L615.0,860.6L616.5,860.4L618.0,860.3L619.5,860.2L621.0,860.0L622.5,859.9L624.0,859.8L625.5,859.7L627.0,859.5L628.5,859.4L630.0,859.3L631.5,859.2L633.0,859.0L634.5,858.9L636.0,858.8L637.5,858.7L639.0,858.6L640.5,858.5L641.6,858.4M675.7,856.4L676.0,856.4L677.5,856.3L679.0,856.3L680.5,856.2L682.0,856.1L683.5,856.1L685.0,856.0L686.5,856.0L688.0,855.9L689.5,855.9L691.0,855.8L692.5,855.8L694.0,855.7L695.5,855.7L697.0,855.6L698.5,855.6L700.0,855.6L701.5,855.5L703.0,855.5L704.5,855.4L706.0,855.4L707.5,855.4L709.0,855.4L710.5,855.3L711.7,855.3M746.6,855.2L747.0,855.2L748.5,855.2L750.0,855.3L751.5,855.3L753.0,855.3L754.5,855.3L756.0,855.3L757.5,855.4L759.0,855.4L760.5,855.4L762.0,855.5L763.5,855.5L765.0,855.5L766.5,855.6L768.0,855.6L769.5,855.7L771.0,855.7L772.5,855.7L774.0,855.8L775.5,855.8L777.0,855.9L778.5,855.9L780.0,856.0L781.5,856.1L782.6,856.1M818.7,858.0L819.0,858.0L820.5,858.1L822.0,858.2L823.5,858.3L825.0,858.4L826.5,858.5L828.0,858.6L829.5,858.7L831.0,858.9L832.5,859.0L834.0,859.1L835.5,859.2L837.0,859.3L838.5,859.4L840.0,859.6L841.5,859.7L843.0,859.8L844.5,859.9L846.0,860.1L847.5,860.2L849.0,860.3L850.5,860.5L852.0,860.6L853.5,860.7L854.6,860.8M890.8,864.5L891.0,864.5L892.5,864.7L894.0,864.9L895.5,865.0L897.0,865.2L898.5,865.3L900.0,865.5L901.5,865.6L903.0,865.8L904.5,866.0L906.0,866.1L907.5,866.3L909.0,866.4L910.5,866.6L912.0,866.7L913.5,866.9L915.0,867.0L916.5,867.2L918.0,867.3L919.5,867.4L921.0,867.6L922.5,867.7L924.0,867.9L925.5,868.0L926.7,868.1M961.7,870.5L962.0,870.5L963.5,870.6L965.0,870.6L966.5,870.7L968.0,870.7L969.5,870.8L971.0,870.8L972.5,870.8L974.0,870.9L975.5,870.9L977.0,870.9L978.5,870.9L980.0,871.0L981.5,871.0L983.0,871.0L984.5,871.0L986.0,871.0L987.5,871.0L989.0,870.9L990.5,870.9L992.0,870.9L993.5,870.9L995.0,870.8L996.5,870.8L997.7,870.8M1033.9,867.7L1034.0,867.7L1035.5,867.5L1037.0,867.3L1038.5,867.0L1040.0,866.8L1041.5,866.6L1043.0,866.3L1044.5,866.0L1046.0,865.8L1047.5,865.5L1049.0,865.2L1050.5,864.9L1052.0,864.6L1053.5,864.3L1055.0,864.0L1056.5,863.7L1058.0,863.3L1059.5,863.0L1061.0,862.6L1062.5,862.3L1064.0,861.9L1065.5,861.5L1067.0,861.1L1068.5,860.7L1069.3,860.5M1104.1,848.6L1104.5,848.4L1106.0,847.8L1107.5,847.1L1109.0,846.5L1110.5,845.8L1112.0,845.2L1113.5,844.5L1115.0,843.8L1116.5,843.1L1118.0,842.4L1119.5,841.7L1121.0,841.0L1122.5,840.3L1124.0,839.6L1125.5,838.8L1127.0,838.1L1128.5,837.3L1130.0,836.6L1131.5,835.8L1133.0,835.0L1134.5,834.2L1136.0,833.4L1137.4,832.6M1175.0,809.8L1175.5,809.5L1177.0,808.5L1178.5,807.4L1180.0,806.4L1181.5,805.4L1183.0,804.3L1184.5,803.3L1186.0,802.2L1187.5,801.1L1189.0,800.0L1190.5,799.0L1192.0,797.9L1193.5,796.8L1195.0,795.6L1196.5,794.5L1198.0,793.4L1199.5,792.3L1201.0,791.1L1202.5,790.0L1204.0,788.8L1205.5,787.7L1205.6,787.6M1233.3,764.8L1233.5,764.7L1235.0,763.4L1236.5,762.1L1238.0,760.8L1239.5,759.5L1241.0,758.1L1242.5,756.8L1244.0,755.5L1245.5,754.1L1247.0,752.8L1248.5,751.4L1250.0,750.0L1251.5,748.7L1253.0,747.3L1254.5,745.9L1256.0,744.5L1257.5,743.1L1259.0,741.7L1260.5,740.3L1261.8,739.0M1287.7,713.5L1288.0,713.2L1289.5,711.7L1291.0,710.1L1292.5,708.6L1294.0,707.0L1295.5,705.5L1297.0,703.9L1298.5,702.3L1300.0,700.8L1301.5,699.2L1303.0,697.6L1304.5,696.0L1306.0,694.4L1307.5,692.8L1309.0,691.1L1310.5,689.5L1312.0,687.9L1313.5,686.2L1314.4,685.2M1338.6,657.4L1339.0,656.9L1340.5,655.1L1342.0,653.3L1343.5,651.4L1345.0,649.6L1346.5,647.8L1348.0,645.9L1349.5,644.0L1351.0,642.1L1352.5,640.2L1354.0,638.3L1355.5,636.4L1357.0,634.5L1358.5,632.5L1360.0,630.6L1361.5,628.6L1363.0,626.6L1363.1,626.5M1384.9,596.2L1385.0,596.1L1386.5,593.9L1388.0,591.8L1389.5,589.6L1391.0,587.4L1392.5,585.1L1394.0,582.9L1395.5,580.7L1397.0,578.4L1398.5,576.2L1400.0,573.9L1401.5,571.6L1403.0,569.4L1404.5,567.1L1406.0,564.8L1407.1,563.1M1427.5,531.3L1428.0,530.6L1429.5,528.2L1431.0,525.8L1432.5,523.5L1434.0,521.1L1435.5,518.7L1437.0,516.4L1438.5,514.0L1440.0,511.6L1441.5,509.2L1443.0,506.8L1444.5,504.4L1446.0,502.0L1447.5,499.6L1448.8,497.4M1469.3,462.9L1469.5,462.6L1471.0,460.1L1472.5,457.5L1474.0,454.9L1475.5,452.4L1477.0,449.8L1478.5,447.3L1480.0,444.7L1481.5,442.2L1483.0,439.7L1484.5,437.2L1486.0,434.7L1487.5,432.2L1489.0,429.6L1489.8,428.3M1509.8,393.3L1510.0,392.9L1511.5,390.2L1513.0,387.4L1514.5,384.6L1516.0,381.8L1517.5,379.0L1519.0,376.2L1520.5,373.4L1522.0,370.6L1523.5,367.7L1525.0,364.9L1526.5,362.1L1528.0,359.2L1528.8,357.6M1547.7,321.9L1548.0,321.3L1549.5,318.5L1551.0,315.7L1552.5,313.0L1554.0,310.2L1555.5,307.5L1557.0,304.7L1558.5,302.0L1560.0,299.3L1561.5,296.6L1563.0,293.9L1564.5,291.3L1566.0,288.6L1567.2,286.4M1587.4,251.7L1587.5,251.6L1589.0,249.0L1590.5,246.5L1592.0,244.0L1593.5,241.5L1595.0,239.0L1596.5,236.5L1598.0,234.0L1599.5,231.6L1601.0,229.1L1602.5,226.6L1604.0,224.1L1605.5,221.7L1607.0,219.2L1608.2,217.3M1629.1,183.1L1629.5,182.4L1631.0,179.9L1632.5,177.4L1634.0,175.0L1635.5,172.5L1636.0,171.7" stroke="#ff0000" stroke-width="6.2" fill="none" stroke-linecap="butt"/>
<path d="M235.0,948.3L235.5,948.2L237.0,947.7L238.5,947.2L240.0,946.7L241.5,946.1L243.0,945.6L244.5,945.1L246.0,944.6L247.5,944.1L249.0,943.5L250.5,943.0L252.0,942.5L253.5,941.9L255.0,941.4L256.5,940.8L258.0,940.3L259.5,939.7L261.0,939.2L262.5,938.6L264.0,938.0L265.5,937.5L267.0,936.9L268.5,936.4L269.4,936.0M304.7,922.3L305.0,922.2L306.5,921.6L308.0,921.0L309.5,920.5L311.0,919.9L312.5,919.3L314.0,918.7L315.5,918.1L317.0,917.5L318.5,917.0L320.0,916.4L321.5,915.8L323.0,915.2L324.5,914.6L326.0,914.1L327.5,913.5L329.0,912.9L330.5,912.4L332.0,911.8L333.5,911.2L335.0,910.7L336.5,910.1L338.0,909.5L338.9,909.2M376.0,896.2L376.5,896.1L378.0,895.6L379.5,895.1L381.0,894.6L382.5,894.1L384.0,893.6L385.5,893.1L387.0,892.7L388.5,892.2L390.0,891.7L391.5,891.2L393.0,890.8L394.5,890.3L396.0,889.9L397.5,889.4L399.0,888.9L400.5,888.5L402.0,888.0L403.5,887.6L405.0,887.1L406.5,886.7L408.0,886.3L409.5,885.8L410.8,885.4M447.5,875.5L448.0,875.4L449.5,875.0L451.0,874.6L452.5,874.3L454.0,873.9L455.5,873.5L457.0,873.2L458.5,872.8L460.0,872.4L461.5,872.1L463.0,871.7L464.5,871.4L466.0,871.0L467.5,870.7L469.0,870.3L470.5,870.0L472.0,869.7L473.5,869.3L475.0,869.0L476.5,868.7L478.0,868.3L479.5,868.0L481.0,867.7L482.5,867.4L482.8,867.3M518.8,860.2L519.0,860.2L520.5,859.9L522.0,859.6L523.5,859.4L525.0,859.1L526.5,858.9L528.0,858.6L529.5,858.3L531.0,858.1L532.5,857.8L534.0,857.6L535.5,857.3L537.0,857.1L538.5,856.8L540.0,856.6L541.5,856.4L543.0,856.1L544.5,855.9L546.0,855.6L547.5,855.4L549.0,855.2L550.5,855.0L552.0,854.7L553.5,854.5L554.5,854.4M591.5,849.4L592.0,849.3L593.5,849.2L595.0,849.0L596.5,848.8L598.0,848.6L599.5,848.5L601.0,848.3L602.5,848.1L604.0,848.0L605.5,847.8L607.0,847.6L608.5,847.5L610.0,847.3L611.5,847.2L613.0,847.0L614.5,846.9L616.0,846.7L617.5,846.5L619.0,846.4L620.5,846.3L622.0,846.1L623.5,846.0L625.0,845.8L626.5,845.7L627.4,845.6M662.4,842.7L662.5,842.7L664.0,842.6L665.5,842.5L667.0,842.4L668.5,842.3L670.0,842.2L671.5,842.1L673.0,842.0L674.5,841.9L676.0,841.8L677.5,841.7L679.0,841.6L680.5,841.5L682.0,841.4L683.5,841.3L685.0,841.2L686.5,841.1L688.0,841.1L689.5,841.0L691.0,840.9L692.5,840.8L694.0,840.7L695.5,840.7L697.0,840.6L698.4,840.5M734.8,839.1L735.0,839.1L736.5,839.1L738.0,839.0L739.5,839.0L741.0,839.0L742.5,838.9L744.0,838.9L745.5,838.9L747.0,838.8L748.5,838.8L750.0,838.8L751.5,838.8L753.0,838.7L754.5,838.7L756.0,838.7L757.5,838.7L759.0,838.7L760.5,838.7L762.0,838.6L763.5,838.6L765.0,838.6L766.5,838.6L768.0,838.6L769.5,838.6L770.8,838.6M805.7,838.9L806.0,839.0L807.5,839.0L809.0,839.0L810.5,839.1L812.0,839.1L813.5,839.1L815.0,839.2L816.5,839.2L818.0,839.3L819.5,839.3L821.0,839.4L822.5,839.4L824.0,839.5L825.5,839.5L827.0,839.6L828.5,839.6L830.0,839.7L831.5,839.8L833.0,839.8L834.5,839.9L836.0,840.0L837.5,840.0L839.0,840.1L840.5,840.2L841.7,840.2M876.6,842.4L877.0,842.4L878.5,842.6L880.0,842.7L881.5,842.8L883.0,842.9L884.5,843.0L886.0,843.2L887.5,843.3L889.0,843.4L890.5,843.5L892.0,843.7L893.5,843.8L895.0,843.9L896.5,844.1L898.0,844.2L899.5,844.3L901.0,844.5L902.5,844.6L904.0,844.7L905.5,844.9L907.0,845.0L908.5,845.2L910.0,845.3L911.5,845.4L912.5,845.5M947.5,848.8L948.0,848.8L949.5,848.9L951.0,849.1L952.5,849.2L954.0,849.3L955.5,849.5L957.0,849.6L958.5,849.7L960.0,849.8L961.5,849.9L963.0,850.1L964.5,850.2L966.0,850.3L967.5,850.4L969.0,850.5L970.5,850.6L972.0,850.7L973.5,850.8L975.0,851.0L976.5,851.1L978.0,851.2L979.5,851.3L981.0,851.4L982.5,851.4L983.4,851.5M1019.1,852.6L1019.5,852.6L1021.0,852.6L1022.5,852.6L1024.0,852.5L1025.5,852.5L1027.0,852.4L1028.5,852.4L1030.0,852.3L1031.5,852.3L1033.0,852.2L1034.5,852.1L1036.0,852.0L1037.5,851.9L1039.0,851.8L1040.5,851.7L1042.0,851.6L1043.5,851.4L1045.0,851.3L1046.5,851.1L1048.0,851.0L1049.5,850.8L1051.0,850.6L1052.5,850.4L1054.0,850.2L1055.0,850.1M1090.0,842.5L1090.5,842.3L1092.0,841.9L1093.5,841.4L1095.0,840.9L1096.5,840.4L1098.0,839.9L1099.5,839.4L1101.0,838.9L1102.5,838.4L1104.0,837.9L1105.5,837.3L1107.0,836.8L1108.5,836.2L1110.0,835.6L1111.5,835.1L1113.0,834.5L1114.5,833.9L1116.0,833.3L1117.5,832.6L1119.0,832.0L1120.5,831.4L1122.0,830.7L1123.5,830.0L1124.3,829.7M1160.9,810.4L1161.0,810.3L1162.5,809.4L1164.0,808.5L1165.5,807.5L1167.0,806.6L1168.5,805.7L1170.0,804.7L1171.5,803.7L1173.0,802.7L1174.5,801.8L1176.0,800.8L1177.5,799.8L1179.0,798.8L1180.5,797.7L1182.0,796.7L1183.5,795.7L1185.0,794.7L1186.5,793.6L1188.0,792.6L1189.5,791.5L1191.0,790.5L1192.2,789.6M1233.5,759.4L1234.0,759.0L1235.5,757.9L1237.0,756.8L1238.5,755.7L1240.0,754.6L1241.5,753.5L1243.0,752.4L1244.5,751.3L1246.0,750.2L1247.5,749.1L1249.0,748.0L1250.5,746.9L1252.0,745.8L1253.5,744.7L1255.0,743.5L1256.5,742.4L1258.0,741.3L1259.5,740.1L1261.0,739.0L1262.5,737.8L1263.9,736.8M1293.4,711.5L1293.5,711.5L1295.0,710.0L1296.5,708.6L1298.0,707.1L1299.5,705.6L1301.0,704.1L1302.5,702.6L1304.0,701.1L1305.5,699.5L1307.0,697.9L1308.5,696.4L1310.0,694.7L1311.5,693.1L1313.0,691.5L1314.5,689.8L1316.0,688.2L1317.5,686.5L1319.0,684.8L1320.2,683.4M1345.7,652.6L1346.0,652.1L1347.5,650.2L1349.0,648.3L1350.5,646.4L1352.0,644.4L1353.5,642.5L1355.0,640.5L1356.5,638.5L1358.0,636.5L1359.5,634.6L1361.0,632.6L1362.5,630.6L1364.0,628.6L1365.5,626.6L1367.0,624.5L1368.5,622.5L1369.6,621.1M1393.2,588.4L1393.5,588.0L1395.0,585.9L1396.5,583.8L1398.0,581.6L1399.5,579.4L1401.0,577.3L1402.5,575.1L1404.0,572.9L1405.5,570.7L1407.0,568.4L1408.5,566.2L1410.0,563.9L1411.5,561.6L1413.0,559.3L1414.5,557.0L1415.6,555.4M1437.2,520.8L1437.5,520.2L1439.0,517.8L1440.5,515.4L1442.0,512.9L1443.5,510.5L1445.0,508.1L1446.5,505.6L1448.0,503.2L1449.5,500.8L1451.0,498.3L1452.5,495.9L1454.0,493.4L1455.5,491.0L1457.0,488.5L1458.2,486.6M1479.2,451.5L1479.5,451.0L1481.0,448.5L1482.5,446.0L1484.0,443.5L1485.5,440.9L1487.0,438.4L1488.5,435.9L1490.0,433.3L1491.5,430.8L1493.0,428.2L1494.5,425.6L1496.0,423.1L1497.5,420.5L1499.0,417.9L1499.6,416.8M1519.5,380.8L1519.5,380.7L1521.0,377.9L1522.5,375.1L1524.0,372.3L1525.5,369.4L1527.0,366.6L1528.5,363.8L1530.0,360.9L1531.5,358.1L1533.0,355.3L1534.5,352.4L1536.0,349.6L1537.5,346.7L1538.4,345.0M1557.9,308.7L1558.0,308.5L1559.5,305.7L1561.0,303.0L1562.5,300.3L1564.0,297.6L1565.5,294.9L1567.0,292.3L1568.5,289.6L1570.0,287.0L1571.5,284.3L1573.0,281.7L1574.5,279.1L1576.0,276.4L1577.5,273.8L1577.7,273.5M1598.5,238.2L1598.5,238.2L1600.0,235.7L1601.5,233.2L1603.0,230.7L1604.5,228.2L1606.0,225.7L1607.5,223.3L1609.0,220.8L1610.5,218.3L1612.0,215.8L1613.5,213.4L1615.0,210.9L1616.5,208.5L1618.0,206.0L1619.3,203.8" stroke="#0000ff" stroke-width="6.2" fill="none" stroke-linecap="butt"/>
<path d="M297.5,916.8L298.0,916.6L299.5,916.3L301.0,916.0L302.5,915.7L304.0,915.3L305.5,915.0L307.0,914.6L308.5,914.3L310.0,913.9L311.5,913.5L313.0,913.1L314.5,912.8L316.0,912.4L317.5,912.0L319.0,911.5L320.5,911.1L322.0,910.7L323.5,910.2L325.0,909.8L326.5,909.3L328.0,908.8L329.5,908.4L331.0,907.9L332.5,907.3L332.6,907.3M369.7,891.8L370.0,891.7L371.5,891.1L373.0,890.4L374.5,889.8L376.0,889.2L377.5,888.6L379.0,888.1L380.5,887.5L382.0,886.9L383.5,886.4L385.0,885.8L386.5,885.3L388.0,884.7L389.5,884.2L391.0,883.7L392.5,883.2L394.0,882.7L395.5,882.2L397.0,881.7L398.5,881.2L400.0,880.7L401.5,880.3L403.0,879.8L404.1,879.5M439.1,870.3L439.5,870.2L441.0,869.9L442.5,869.6L444.0,869.3L445.5,868.9L447.0,868.6L448.5,868.3L450.0,868.0L451.5,867.7L453.0,867.4L454.5,867.1L456.0,866.8L457.5,866.5L459.0,866.2L460.5,865.9L462.0,865.6L463.5,865.3L465.0,865.0L466.5,864.7L468.0,864.4L469.5,864.1L471.0,863.9L472.5,863.6L474.0,863.3L474.6,863.2M510.0,857.0L510.5,856.9L512.0,856.6L513.5,856.4L515.0,856.1L516.5,855.9L518.0,855.7L519.5,855.4L521.0,855.2L522.5,854.9L524.0,854.7L525.5,854.5L527.0,854.2L528.5,854.0L530.0,853.8L531.5,853.5L533.0,853.3L534.5,853.1L536.0,852.8L537.5,852.6L539.0,852.4L540.5,852.1L542.0,851.9L543.5,851.7L545.0,851.5L545.7,851.4M581.0,846.6L581.5,846.5L583.0,846.3L584.5,846.1L586.0,845.9L587.5,845.7L589.0,845.6L590.5,845.4L592.0,845.2L593.5,845.0L595.0,844.8L596.5,844.7L598.0,844.5L599.5,844.3L601.0,844.1L602.5,844.0L604.0,843.8L605.5,843.6L607.0,843.5L608.5,843.3L610.0,843.1L611.5,843.0L613.0,842.8L614.5,842.7L616.0,842.5L616.8,842.4M651.8,839.1L652.0,839.1L653.5,839.0L655.0,838.9L656.5,838.8L658.0,838.6L659.5,838.5L661.0,838.4L662.5,838.3L664.0,838.2L665.5,838.1L667.0,838.0L668.5,837.9L670.0,837.8L671.5,837.7L673.0,837.6L674.5,837.4L676.0,837.3L677.5,837.3L679.0,837.2L680.5,837.1L682.0,837.0L683.5,836.9L685.0,836.8L686.5,836.7L687.7,836.6M724.0,835.0L724.5,834.9L726.0,834.9L727.5,834.8L729.0,834.8L730.5,834.7L732.0,834.7L733.5,834.7L735.0,834.6L736.5,834.6L738.0,834.5L739.5,834.5L741.0,834.5L742.5,834.4L744.0,834.4L745.5,834.4L747.0,834.3L748.5,834.3L750.0,834.3L751.5,834.3L753.0,834.2L754.5,834.2L756.0,834.2L757.5,834.2L759.0,834.2L760.0,834.1M796.0,834.1L796.5,834.1L798.0,834.1L799.5,834.2L801.0,834.2L802.5,834.2L804.0,834.2L805.5,834.3L807.0,834.3L808.5,834.3L810.0,834.3L811.5,834.4L813.0,834.4L814.5,834.4L816.0,834.4L817.5,834.5L819.0,834.5L820.5,834.6L822.0,834.6L823.5,834.6L825.0,834.7L826.5,834.7L828.0,834.7L829.5,834.8L831.0,834.8L832.0,834.9M867.0,836.3L867.5,836.3L869.0,836.4L870.5,836.4L872.0,836.5L873.5,836.6L875.0,836.7L876.5,836.8L878.0,836.8L879.5,836.9L881.0,837.0L882.5,837.1L884.0,837.2L885.5,837.3L887.0,837.3L888.5,837.4L890.0,837.5L891.5,837.6L893.0,837.7L894.5,837.8L896.0,837.9L897.5,838.0L899.0,838.1L900.5,838.2L902.0,838.3L903.0,838.4M938.0,840.9L938.5,840.9L940.0,841.0L941.5,841.1L943.0,841.2L944.5,841.3L946.0,841.4L947.5,841.5L949.0,841.6L950.5,841.7L952.0,841.8L953.5,842.0L955.0,842.1L956.5,842.2L958.0,842.3L959.5,842.4L961.0,842.4L962.5,842.5L964.0,842.6L965.5,842.7L967.0,842.8L968.5,842.9L970.0,843.0L971.5,843.1L973.0,843.2L973.9,843.2M1008.4,844.5L1008.5,844.5L1010.0,844.6L1011.5,844.6L1013.0,844.6L1014.5,844.6L1016.0,844.6L1017.5,844.6L1019.0,844.6L1020.5,844.6L1022.0,844.6L1023.5,844.6L1025.0,844.6L1026.5,844.5L1028.0,844.5L1029.5,844.5L1031.0,844.4L1032.5,844.4L1034.0,844.3L1035.5,844.3L1037.0,844.2L1038.5,844.1L1040.0,844.1L1041.5,844.0L1043.0,843.9L1044.4,843.8M1079.3,838.8L1079.5,838.7L1081.0,838.4L1082.5,838.0L1084.0,837.7L1085.5,837.3L1087.0,836.9L1088.5,836.5L1090.0,836.1L1091.5,835.6L1093.0,835.2L1094.5,834.7L1096.0,834.3L1097.5,833.8L1099.0,833.3L1100.5,832.8L1102.0,832.3L1103.5,831.8L1105.0,831.2L1106.5,830.7L1108.0,830.2L1109.5,829.6L1111.0,829.0L1112.5,828.4L1114.0,827.8L1114.0,827.8M1158.0,806.3L1158.5,806.0L1160.0,805.1L1161.5,804.3L1163.0,803.4L1164.5,802.5L1166.0,801.6L1167.5,800.7L1169.0,799.8L1170.5,798.9L1172.0,797.9L1173.5,797.0L1175.0,796.1L1176.5,795.1L1178.0,794.2L1179.5,793.2L1181.0,792.3L1182.5,791.3L1184.0,790.3L1185.5,789.3L1187.0,788.4L1188.5,787.4L1189.8,786.5M1216.8,768.2L1217.0,768.0L1218.5,767.0L1220.0,766.0L1221.5,765.0L1223.0,764.0L1224.5,763.0L1226.0,762.1L1227.5,761.1L1229.0,760.1L1230.5,759.2L1232.0,758.2L1233.5,757.3L1235.0,756.3L1236.5,755.4L1238.0,754.4L1239.5,753.5L1241.0,752.6L1242.5,751.6L1244.0,750.7L1245.5,749.7L1247.0,748.8L1248.4,747.9M1275.3,729.6L1275.5,729.5L1277.0,728.3L1278.5,727.2L1280.0,726.0L1281.5,724.8L1283.0,723.6L1284.5,722.4L1286.0,721.1L1287.5,719.9L1289.0,718.6L1290.5,717.3L1292.0,715.9L1293.5,714.6L1295.0,713.2L1296.5,711.8L1298.0,710.3L1299.5,708.9L1301.0,707.4L1302.5,705.8L1304.0,704.3L1304.0,704.3M1326.6,679.0L1327.0,678.5L1328.5,676.7L1330.0,674.9L1331.5,673.1L1333.0,671.3L1334.5,669.5L1336.0,667.7L1337.5,665.8L1339.0,664.0L1340.5,662.2L1342.0,660.4L1343.5,658.5L1345.0,656.7L1346.5,654.8L1348.0,653.0L1349.5,651.1L1351.0,649.2L1351.5,648.6M1372.5,621.6L1373.0,620.9L1374.5,618.9L1376.0,616.9L1377.5,614.9L1379.0,612.8L1380.5,610.8L1382.0,608.7L1383.5,606.6L1385.0,604.6L1386.5,602.5L1388.0,600.4L1389.5,598.3L1391.0,596.1L1392.5,594.0L1394.0,591.8L1395.5,589.7L1395.7,589.4M1416.3,558.4L1416.5,558.1L1418.0,555.8L1419.5,553.5L1421.0,551.1L1422.5,548.8L1424.0,546.4L1425.5,544.1L1427.0,541.7L1428.5,539.3L1430.0,537.0L1431.5,534.6L1433.0,532.2L1434.5,529.8L1436.0,527.4L1437.5,525.0L1437.8,524.6M1458.5,491.1L1458.5,491.1L1460.0,488.6L1461.5,486.2L1463.0,483.7L1464.5,481.3L1466.0,478.8L1467.5,476.3L1469.0,473.8L1470.5,471.3L1472.0,468.9L1473.5,466.4L1475.0,463.9L1476.5,461.4L1478.0,458.8L1479.3,456.7M1499.2,422.6L1499.5,422.1L1501.0,419.5L1502.5,416.8L1504.0,414.2L1505.5,411.5L1507.0,408.8L1508.5,406.1L1510.0,403.4L1511.5,400.7L1513.0,398.0L1514.5,395.2L1516.0,392.5L1517.5,389.7L1518.8,387.2M1537.6,352.2L1538.0,351.4L1539.5,348.6L1541.0,345.8L1542.5,343.0L1544.0,340.2L1545.5,337.4L1547.0,334.6L1548.5,331.8L1550.0,329.0L1551.5,326.2L1553.0,323.4L1554.5,320.6L1556.0,317.8L1556.7,316.5M1576.0,281.8L1576.5,280.9L1578.0,278.3L1579.5,275.6L1581.0,273.0L1582.5,270.4L1584.0,267.8L1585.5,265.2L1587.0,262.6L1588.5,260.0L1590.0,257.5L1591.5,254.9L1593.0,252.4L1594.5,249.8L1596.0,247.3L1596.2,246.9M1616.6,213.1L1617.0,212.5L1618.5,210.0L1620.0,207.6L1621.5,205.2L1623.0,202.7L1624.5,200.3L1626.0,197.9L1627.5,195.5L1629.0,193.0L1630.5,190.6L1632.0,188.2L1633.5,185.7L1635.0,183.3L1636.0,181.6" stroke="#00e619" stroke-width="6.2" fill="none" stroke-linecap="butt"/>
<path d="M276.3,931.1L276.5,931.0L278.0,930.5L279.5,930.1L281.0,929.6L282.5,929.2L284.0,928.7L285.5,928.2L287.0,927.8L288.5,927.3L290.0,926.8L291.5,926.4L293.0,925.9L294.5,925.4L296.0,925.0L297.5,924.5L299.0,924.0L300.5,923.6L302.0,923.1L303.5,922.6L305.0,922.2L306.5,921.7L308.0,921.2L309.5,920.7L311.0,920.3L311.1,920.2M347.5,908.3L348.0,908.1L349.5,907.6L351.0,907.1L352.5,906.5L354.0,906.0L355.5,905.5L357.0,904.9L358.5,904.4L360.0,903.8L361.5,903.2L363.0,902.7L364.5,902.1L366.0,901.5L367.5,900.8L369.0,900.2L370.5,899.6L372.0,898.9L373.5,898.2L375.0,897.5L376.5,896.8L378.0,896.1L379.5,895.3L381.0,894.6L381.4,894.3M417.9,877.2L418.0,877.1L419.5,876.8L421.0,876.4L422.5,876.1L424.0,875.8L425.5,875.5L427.0,875.3L428.5,875.0L430.0,874.8L431.5,874.5L433.0,874.3L434.5,874.1L436.0,873.8L437.5,873.6L439.0,873.4L440.5,873.1L442.0,872.8L443.5,872.5L445.0,872.2L446.5,871.9L448.0,871.5L449.5,871.1L451.0,870.7L452.5,870.3L453.4,870.0M490.4,854.1L490.5,854.1L492.0,853.6L493.5,853.1L495.0,852.7L496.5,852.3L498.0,851.9L499.5,851.5L501.0,851.2L502.5,850.9L504.0,850.6L505.5,850.3L507.0,850.0L508.5,849.8L510.0,849.5L511.5,849.3L513.0,849.0L514.5,848.8L516.0,848.6L517.5,848.4L519.0,848.1L520.5,847.9L522.0,847.7L523.5,847.4L525.0,847.2L525.8,847.0M561.3,839.9L561.5,839.9L563.0,839.6L564.5,839.3L566.0,839.0L567.5,838.7L569.0,838.4L570.5,838.1L572.0,837.9L573.5,837.6L575.0,837.3L576.5,837.0L578.0,836.8L579.5,836.5L581.0,836.3L582.5,836.0L584.0,835.7L585.5,835.5L587.0,835.2L588.5,835.0L590.0,834.8L591.5,834.5L593.0,834.3L594.5,834.1L596.0,833.8L596.9,833.7M632.3,829.1L632.5,829.1L634.0,829.0L635.5,828.8L637.0,828.6L638.5,828.5L640.0,828.3L641.5,828.2L643.0,828.0L644.5,827.9L646.0,827.7L647.5,827.6L649.0,827.4L650.5,827.3L652.0,827.2L653.5,827.0L655.0,826.9L656.5,826.7L658.0,826.6L659.5,826.5L661.0,826.3L662.5,826.2L664.0,826.1L665.5,826.0L667.0,825.8L668.2,825.7M704.0,823.2L704.5,823.2L706.0,823.1L707.5,823.0L709.0,822.9L710.5,822.8L712.0,822.7L713.5,822.6L715.0,822.6L716.5,822.5L718.0,822.4L719.5,822.3L721.0,822.2L722.5,822.2L724.0,822.1L725.5,822.0L727.0,821.9L728.5,821.9L730.0,821.8L731.5,821.7L733.0,821.7L734.5,821.6L736.0,821.5L737.5,821.5L739.0,821.4L740.0,821.4M775.0,820.4L775.5,820.3L777.0,820.3L778.5,820.3L780.0,820.3L781.5,820.2L783.0,820.2L784.5,820.2L786.0,820.2L787.5,820.2L789.0,820.1L790.5,820.1L792.0,820.1L793.5,820.1L795.0,820.1L796.5,820.1L798.0,820.1L799.5,820.1L801.0,820.1L802.5,820.1L804.0,820.1L805.5,820.0L807.0,820.0L808.5,820.0L810.0,820.1L811.0,820.1M847.0,820.5L847.5,820.5L849.0,820.6L850.5,820.6L852.0,820.6L853.5,820.7L855.0,820.7L856.5,820.8L858.0,820.8L859.5,820.8L861.0,820.9L862.5,820.9L864.0,821.0L865.5,821.0L867.0,821.1L868.5,821.1L870.0,821.2L871.5,821.3L873.0,821.3L874.5,821.4L876.0,821.4L877.5,821.5L879.0,821.5L880.5,821.6L882.0,821.7L883.0,821.7M918.0,823.5L918.5,823.6L920.0,823.7L921.5,823.7L923.0,823.8L924.5,823.9L926.0,824.0L927.5,824.1L929.0,824.2L930.5,824.3L932.0,824.4L933.5,824.4L935.0,824.5L936.5,824.6L938.0,824.7L939.5,824.8L941.0,824.9L942.5,825.0L944.0,825.1L945.5,825.1L947.0,825.2L948.5,825.3L950.0,825.4L951.5,825.5L953.0,825.6L954.0,825.6M988.9,827.4L989.0,827.4L990.5,827.5L992.0,827.5L993.5,827.6L995.0,827.6L996.5,827.7L998.0,827.7L999.5,827.8L1001.0,827.8L1002.5,827.9L1004.0,827.9L1005.5,828.0L1007.0,828.0L1008.5,828.1L1010.0,828.1L1011.5,828.2L1013.0,828.2L1014.5,828.2L1016.0,828.3L1017.5,828.3L1019.0,828.3L1020.5,828.3L1022.0,828.4L1023.5,828.4L1024.9,828.4M1061.2,828.1L1061.5,828.1L1063.0,828.0L1064.5,828.0L1066.0,827.9L1067.5,827.8L1069.0,827.8L1070.5,827.7L1072.0,827.6L1073.5,827.5L1075.0,827.4L1076.5,827.3L1078.0,827.2L1079.5,827.1L1081.0,827.0L1082.5,826.9L1084.0,826.7L1085.5,826.6L1087.0,826.5L1088.5,826.3L1090.0,826.1L1091.5,825.9L1093.0,825.7L1094.5,825.5L1096.0,825.3L1097.1,825.2M1132.5,815.8L1133.0,815.6L1134.5,815.0L1136.0,814.4L1137.5,813.7L1139.0,813.0L1140.5,812.4L1142.0,811.7L1143.5,810.9L1145.0,810.2L1146.5,809.5L1148.0,808.7L1149.5,807.9L1151.0,807.1L1152.5,806.3L1154.0,805.5L1155.5,804.7L1157.0,803.9L1158.5,803.1L1160.0,802.2L1161.5,801.4L1163.0,800.5L1164.5,799.6L1165.5,799.1M1203.4,775.4L1203.5,775.3L1205.0,774.3L1206.5,773.2L1208.0,772.2L1209.5,771.2L1211.0,770.1L1212.5,769.1L1214.0,768.0L1215.5,767.0L1217.0,765.9L1218.5,764.8L1220.0,763.7L1221.5,762.6L1223.0,761.5L1224.5,760.4L1226.0,759.3L1227.5,758.2L1229.0,757.0L1230.5,755.9L1232.0,754.8L1233.5,753.6L1234.0,753.2M1254.7,736.4L1255.0,736.1L1256.5,734.8L1258.0,733.6L1259.5,732.3L1261.0,730.9L1262.5,729.6L1264.0,728.3L1265.5,726.9L1267.0,725.6L1268.5,724.2L1270.0,722.9L1271.5,721.5L1273.0,720.1L1274.5,718.7L1276.0,717.3L1277.5,715.9L1279.0,714.4L1280.5,713.0L1282.0,711.5L1283.1,710.5M1302.1,691.1L1302.5,690.7L1304.0,689.1L1305.5,687.5L1307.0,685.9L1308.5,684.2L1310.0,682.6L1311.5,681.0L1313.0,679.3L1314.5,677.7L1316.0,676.0L1317.5,674.3L1319.0,672.6L1320.5,670.9L1322.0,669.2L1323.5,667.5L1325.0,665.8L1326.5,664.1L1328.0,662.4L1328.2,662.1M1346.0,641.2L1346.5,640.6L1348.0,638.8L1349.5,637.0L1351.0,635.2L1352.5,633.4L1354.0,631.6L1355.5,629.8L1357.0,627.9L1358.5,626.1L1360.0,624.3L1361.5,622.5L1363.0,620.6L1364.5,618.8L1366.0,617.0L1367.5,615.1L1369.0,613.3L1370.5,611.4L1371.0,610.9M1401.0,573.6L1401.5,573.0L1403.0,571.1L1404.5,569.2L1406.0,567.4L1407.5,565.5L1409.0,563.6L1410.5,561.7L1412.0,559.9L1413.5,558.0L1415.0,556.1L1416.5,554.2L1418.0,552.3L1419.5,550.5L1421.0,548.6L1422.5,546.7L1424.0,544.8L1425.5,542.9L1425.6,542.8M1455.0,505.0L1455.5,504.3L1457.0,502.3L1458.5,500.3L1460.0,498.3L1461.5,496.3L1463.0,494.2L1464.5,492.2L1466.0,490.1L1467.5,488.1L1469.0,486.0L1470.5,483.9L1472.0,481.8L1473.5,479.7L1475.0,477.5L1476.5,475.4L1478.0,473.2L1478.3,472.8M1499.8,440.2L1500.0,439.9L1501.5,437.5L1503.0,435.1L1504.5,432.7L1506.0,430.2L1507.5,427.8L1509.0,425.4L1510.5,422.9L1512.0,420.4L1513.5,418.0L1515.0,415.5L1516.5,413.0L1518.0,410.5L1519.5,408.0L1520.7,406.0M1540.8,372.1L1541.0,371.8L1542.5,369.2L1544.0,366.7L1545.5,364.2L1547.0,361.7L1548.5,359.2L1550.0,356.7L1551.5,354.2L1553.0,351.7L1554.5,349.2L1556.0,346.7L1557.5,344.2L1559.0,341.8L1560.5,339.3L1561.5,337.7M1580.8,303.3L1581.0,302.9L1582.5,300.1L1584.0,297.3L1585.5,294.5L1587.0,291.7L1588.5,288.9L1590.0,286.2L1591.5,283.4L1593.0,280.7L1594.5,278.0L1596.0,275.4L1597.5,272.7L1599.0,270.1L1600.3,267.8M1619.5,233.4L1620.0,232.4L1621.5,229.4L1623.0,226.3L1624.5,223.2L1626.0,219.9L1627.5,216.5L1629.0,213.0L1630.5,209.4L1632.0,205.6L1633.5,201.6L1635.0,197.5L1635.6,195.7" stroke="#ffff00" stroke-width="6.2" fill="none" stroke-linecap="butt"/>
</g>
<rect x="246.5" y="52.5" width="356.5" height="608" fill="#fff" stroke="#666" stroke-width="2.2"/>
<line x1="261.5" y1="86.6" x2="379.5" y2="86.6" stroke="#000000" stroke-width="7"/>
<text x="388" y="104.1" class="lg">0.2 s (FS)</text>
<line x1="261.5" y1="147.3" x2="379.5" y2="147.3" stroke="#ff0000" stroke-width="7"/>
<text x="388" y="164.8" class="lg">0.4 s (FS)</text>
<line x1="261.5" y1="208.0" x2="379.5" y2="208.0" stroke="#0000ff" stroke-width="7"/>
<text x="388" y="225.5" class="lg">0.6 s (FS)</text>
<line x1="261.5" y1="268.7" x2="379.5" y2="268.7" stroke="#00e619" stroke-width="7"/>
<text x="388" y="286.2" class="lg">0.8 s (FS)</text>
<line x1="261.5" y1="329.4" x2="379.5" y2="329.4" stroke="#ffff00" stroke-width="7"/>
<text x="388" y="346.9" class="lg">1.0 s (FS)</text>
<line x1="261.5" y1="390.0" x2="299.5" y2="390.0" stroke="#000000" stroke-width="7"/>
<line x1="332" y1="390.0" x2="370" y2="390.0" stroke="#000000" stroke-width="7"/>
<text x="388" y="407.5" class="lg">0.2 s (RS)</text>
<line x1="261.5" y1="450.7" x2="299.5" y2="450.7" stroke="#ff0000" stroke-width="7"/>
<line x1="332" y1="450.7" x2="370" y2="450.7" stroke="#ff0000" stroke-width="7"/>
<text x="388" y="468.2" class="lg">0.4 s (RS)</text>
<line x1="261.5" y1="511.4" x2="299.5" y2="511.4" stroke="#0000ff" stroke-width="7"/>
<line x1="332" y1="511.4" x2="370" y2="511.4" stroke="#0000ff" stroke-width="7"/>
<text x="388" y="528.9" class="lg">0.6 s (RS)</text>
<line x1="261.5" y1="572.1" x2="299.5" y2="572.1" stroke="#00e619" stroke-width="7"/>
<line x1="332" y1="572.1" x2="370" y2="572.1" stroke="#00e619" stroke-width="7"/>
<text x="388" y="589.6" class="lg">0.8 s (RS)</text>
<line x1="261.5" y1="632.8" x2="299.5" y2="632.8" stroke="#ffff00" stroke-width="7"/>
<line x1="332" y1="632.8" x2="370" y2="632.8" stroke="#ffff00" stroke-width="7"/>
<text x="388" y="650.3" class="lg">1.0 s (RS)</text>
<text x="202.5" y="157.2" text-anchor="end" class="tk">10</text>
<text x="202.5" y="365.2" text-anchor="end" class="tk">0</text>
<text x="202.5" y="573.2" text-anchor="end" class="tk">-10</text>
<text x="202.5" y="781.2" text-anchor="end" class="tk">-20</text>
<text x="202.5" y="989.2" text-anchor="end" class="tk">-30</text>
<text x="235.2" y="1153" text-anchor="middle" class="tk">-1.0</text>
<text x="584.9" y="1153" text-anchor="middle" class="tk">-0.5</text>
<text x="934.5" y="1153" text-anchor="middle" class="tk">0.0</text>
<text x="1284.2" y="1153" text-anchor="middle" class="tk">0.5</text>
<text x="1633.9" y="1153" text-anchor="middle" class="tk">1.0</text>
<text x="934.5" y="1238" text-anchor="middle" class="ax">Voltage (V)</text>
<text transform="translate(74.5,574) rotate(-90)" text-anchor="middle" class="ax" style="font-size:50.3px">Current Density (mA.cm<tspan dy="-27" font-size="45">-2</tspan><tspan dy="27">)</tspan></text>
</svg>
</body></html>
